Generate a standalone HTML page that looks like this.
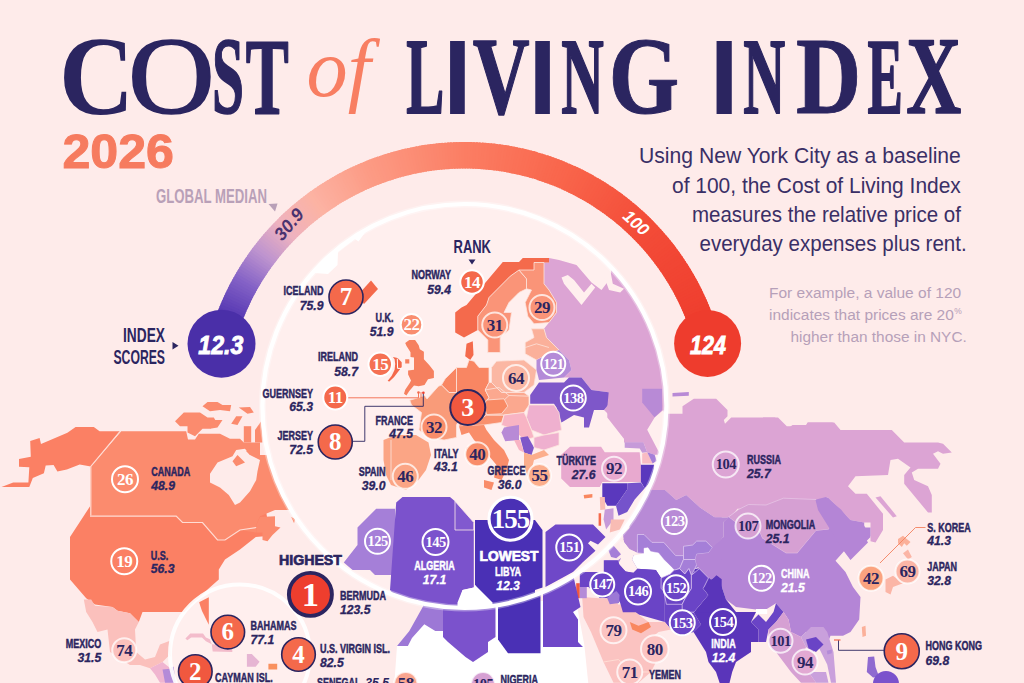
<!DOCTYPE html>
<html lang="en"><head><meta charset="utf-8"><title>Cost of Living Index 2026</title>
<style>
html,body{margin:0;padding:0;background:#feebea;}
body{width:1024px;height:683px;overflow:hidden;font-family:"Liberation Sans",sans-serif;}
svg{display:block;}
text{font-family:"Liberation Sans",sans-serif;}
.serif{font-family:"Liberation Serif",serif;}
</style></head><body>
<svg width="1024" height="683" viewBox="0 0 1024 683">
<rect width="1024" height="683" fill="#feebea"/>
<defs><clipPath id="lensclip"><circle cx="464.4" cy="406" r="202"/></clipPath><clipPath id="carclip"><circle cx="240" cy="654.5" r="70"/></clipPath></defs>
<polygon points="1.5,486.9 13.2,482.5 28.4,482.5 29.3,467.3 19.0,466.7 19.0,459.1 30.8,456.8 30.2,440.9 39.6,438.0 41.0,443.9 67.4,432.7 75.6,426.9 93.8,426.9 99.6,431.3 120.1,431.3 90.8,466.4 79.7,464.4 66.8,469.6 57.4,471.4 53.6,465.0 45.7,465.5 43.9,473.2 32.8,478.1 29.3,486.9" fill="#fb8064"/>
<polygon points="91.2,504.5 265.0,504.5 270.0,535.8 255.8,537.0 240.0,549.5 225.0,559.5 218.8,569.5 218.8,579.5 207.5,589.5 197.5,599.5 185.0,612.0 142.5,612.0 138.8,622.0 130.0,613.2 117.5,610.8 112.5,607.0 95.0,604.5 86.2,598.2 70.0,579.5 70.0,537.0" fill="#fb8064"/>
<polygon points="121.2,431.2 186.2,431.2 188.0,439.5 195.0,439.5 198.8,433.8 220.0,433.8 230.0,438.8 240.0,438.8 243.8,442.5 260.0,442.5 260.0,455.0 275.0,455.0 275.0,470.0 290.0,485.0 297.5,510.0 275.0,510.0 260.0,516.2 256.2,525.0 256.2,532.5 240.0,530.0 225.0,540.0 217.5,540.0 202.5,522.5 182.5,522.5 176.2,516.2 90.0,516.2 90.0,467.5" fill="#fb8b6e"/>
<polygon points="210.0,473.8 217.5,462.5 232.5,456.2 236.2,450.0 245.0,448.8 250.0,455.0 260.0,460.0 257.5,471.2 256.2,480.0 250.0,491.2 240.0,502.5 235.0,505.0 228.8,495.0 220.0,487.5 210.0,482.5" fill="#feebea"/>
<polygon points="232.5,461.2 237.5,455.0 245.0,462.5 236.2,466.2" fill="#fb8b6e"/>
<polygon points="246.2,451.2 251.2,447.5 256.2,455.0 250.0,455.0" fill="#fb8b6e"/>
<polygon points="175.0,421.2 183.8,412.5 200.0,412.5 207.5,417.5 213.8,417.5 217.5,423.8 210.0,428.8 202.5,428.8 195.0,436.2 187.5,432.5 187.5,426.2 180.0,426.2" fill="#fb8b6e"/>
<polygon points="202.5,406.2 207.5,402.0 217.5,402.0 222.5,405.0 231.2,405.0 230.0,411.2 220.0,410.0 210.0,411.2" fill="#fb8b6e"/>
<polygon points="231.2,423.8 236.2,416.2 242.5,416.2 237.5,425.0" fill="#fb8b6e"/>
<polygon points="238.8,407.5 250.0,407.0 253.8,412.5 247.5,413.8" fill="#fb8b6e"/>
<polygon points="243.8,426.2 251.2,426.2 251.2,442.5 243.8,442.5" fill="#fb8b6e"/>
<polygon points="255.0,430.0 261.2,421.2 262.5,442.5 255.0,442.5" fill="#fb8b6e"/>
<polygon points="210.0,420.0 222.5,420.0 217.5,427.5 210.0,428.8" fill="#fb8b6e"/>
<polygon points="260.0,517.0 275.0,516.2 275.0,526.2 280.5,527.5 272.5,535.0 267.5,541.2 262.5,540.0 262.5,532.5 256.2,532.5 256.2,525.0" fill="#fb8b6e"/>
<polygon points="291.2,517.0 295.5,518.8 294.0,523.0" fill="#fb8b6e"/>
<polyline points="90.0,516.2 176.2,516.2 182.5,522.5 202.5,522.5 217.5,540.0 225.0,540.0 240.0,530.0 256.2,527.5" fill="none" stroke="#ffdcd4" stroke-width="1.2"/>
<polyline points="120.1,431.3 90.8,466.4 90.8,515.4" fill="none" stroke="#ffdcd4" stroke-width="1.2"/>
<polygon points="83.8,599.5 91.2,599.5 95.0,605.8 112.5,607.0 117.5,610.8 130.0,613.2 138.8,622.0 135.0,629.5 136.2,652.0 145.0,659.5 155.0,657.0 160.0,644.5 170.0,640.8 172.5,652.0 162.5,662.0 150.0,668.2 140.0,665.0 130.0,665.0 110.0,652.0 107.5,629.5 97.5,632.0 92.5,622.0 86.2,612.0" fill="#fbc0bc"/>
<polygon points="150.0,668.2 162.5,662.0 175.0,672.0 172.5,682.8 160.0,682.8 155.0,674.5" fill="#f0b5d0"/>
<polygon points="162.5,669.5 175.0,668.2 177.5,682.8 165.0,682.8" fill="#b48bd8"/>
<polygon points="655.0,413.8 682.5,413.8 682.5,406.2 693.8,398.8 716.2,398.8 727.5,410.0 727.5,416.2 723.8,420.0 725.0,423.8 731.2,417.5 775.0,417.5 787.5,428.8 792.5,425.0 806.2,425.0 807.5,422.5 832.5,422.5 840.0,430.0 840.0,482.5 815.0,500.0 820.0,506.2 815.0,513.8 772.5,513.8 765.0,506.2 756.2,505.0 750.0,508.8 737.5,508.8 730.0,517.5 715.0,517.5 700.0,507.5 686.2,495.0 676.2,500.0 665.0,490.0 652.5,490.0 640.0,490.0 640.0,413.8" fill="#dca4d4"/>
<polygon points="763.0,417.5 778.0,417.5 786.8,426.2 805.5,426.2 808.0,422.5 834.2,422.5 840.5,430.0 891.8,430.0 904.2,442.5 938.0,442.5 943.0,443.8 951.8,452.5 943.0,453.8 938.0,451.2 933.0,453.8 940.5,463.8 938.0,468.8 918.0,468.8 911.8,472.5 914.2,480.0 928.0,486.2 931.8,495.0 931.8,512.5 928.0,512.5 904.2,483.8 904.2,475.0 910.5,467.5 898.0,458.8 890.5,460.0 888.0,475.0 855.5,476.2 848.0,486.2 855.5,493.8 866.8,493.8 883.0,513.8 883.0,530.0 875.5,542.5 870.5,541.2 870.5,522.5 864.2,522.5 850.5,520.0 843.0,512.5 828.0,497.5 815.5,500.0 793.0,510.0 763.0,510.0" fill="#dca4d4"/>
<polygon points="875.5,497.5 880.5,496.2 896.8,516.2 893.0,517.5" fill="#dca4d4"/>
<polygon points="672.5,393.0 688.8,392.0 688.8,395.8 672.5,396.5" fill="#b88ad6"/>
<polygon points="629.8,502.0 641.0,487.0 652.5,490.0 665.0,490.0 676.2,500.0 686.2,495.0 700.0,507.5 715.0,517.5 728.5,517.5 723.5,522.0 723.5,537.0 711.0,547.0 706.0,540.8 696.0,540.8 691.0,545.8 683.5,545.8 683.5,557.0 677.2,557.0 671.0,547.0 661.0,544.5 653.5,547.0 651.0,539.5 643.5,534.5 638.5,535.8 638.5,552.0 629.8,552.0 623.5,539.5 629.8,532.0" fill="#b88ad6"/>
<polygon points="728.5,517.0 738.5,509.5 748.5,504.5 766.0,505.0 783.5,498.2 816.0,499.5 828.5,512.0 831.8,524.5 828.5,529.5 816.0,530.8 797.2,553.2 786.0,553.2 762.2,538.2 758.5,529.5 738.5,524.5" fill="#d6a0d3" stroke="#e6c4e4" stroke-width="0.8" stroke-linejoin="round"/>
<polygon points="723.5,522.0 728.5,517.0 738.5,524.5 758.5,529.5 762.2,538.2 786.0,553.2 797.2,553.2 816.0,530.8 828.5,529.5 831.8,524.5 828.5,512.0 816.0,499.5 826.0,497.0 841.0,509.5 851.0,522.0 863.5,524.5 870.5,537.0 860.5,547.0 850.5,559.5 845.5,549.5 835.5,560.8 845.5,572.0 853.0,587.0 860.5,597.0 859.2,619.5 850.5,632.0 843.0,635.8 830.5,635.8 828.0,642.0 821.8,642.0 818.0,637.0 811.0,637.0 806.0,632.0 801.0,637.0 791.0,632.0 788.5,619.5 783.5,612.0 776.0,603.2 766.0,609.5 756.0,609.5 736.0,607.0 726.0,599.5 721.0,584.5 718.5,575.8 711.0,579.5 698.5,567.0 696.0,554.5 711.0,547.0 723.5,537.0" fill="#b485d6"/>
<polygon points="815.5,500.0 828.0,497.5 843.0,512.5 850.5,520.0 864.2,522.5 864.2,527.5 870.5,527.5 870.5,536.2 864.2,536.2 868.0,542.5 850.5,560.0 843.0,550.0 830.5,530.0 818.0,510.0" fill="#b485d6"/>
<polygon points="638.5,535.8 643.5,534.5 651.0,539.5 653.5,547.0 661.0,544.5 671.0,547.0 677.2,557.0 683.5,557.0 683.5,545.8 691.0,545.8 696.0,540.8 706.0,540.8 711.0,547.0 696.0,554.5 698.5,567.0 693.5,569.5 691.0,569.5 686.0,574.5 676.0,569.5 664.8,579.5 662.2,579.5 656.0,568.2 638.5,568.2 633.5,573.2 622.2,569.5 617.2,560.8 629.8,552.0 638.5,552.0" fill="#a57fd8"/>
<polygon points="632.2,549.5 648.5,549.5 658.5,559.5 673.5,564.5 671.0,572.0 651.0,565.8 636.0,562.0" fill="#feebea"/>
<polygon points="604.8,560.8 617.2,560.8 622.2,569.5 633.5,573.2 638.5,568.2 656.0,568.2 662.2,579.5 664.8,579.5 664.8,622.0 638.5,614.5 626.0,604.5 618.5,594.5 604.8,574.5" fill="#6a44c6"/>
<polygon points="579.8,572.0 604.8,572.0 618.5,594.5 611.0,598.2 599.8,598.2 591.0,587.0 582.2,587.0" fill="#6a44c6"/>
<polygon points="608.5,594.5 617.2,592.0 622.2,599.5 616.0,604.5 609.8,602.0" fill="#9c78d6"/>
<polygon points="664.8,579.5 676.0,569.5 686.0,574.5 691.0,569.5 693.5,569.5 703.5,587.0 706.0,589.5 693.5,612.0 701.0,624.5 693.5,632.0 686.0,634.5 671.0,629.5 664.8,622.0" fill="#6a44c6"/>
<polygon points="693.5,569.5 698.5,568.2 711.0,579.5 718.5,575.8 721.0,584.5 726.0,599.5 736.0,612.0 756.0,612.0 751.0,622.0 758.5,629.5 758.5,642.0 751.0,642.0 751.0,652.0 736.0,662.0 732.2,672.0 728.5,687.0 721.0,687.0 716.0,672.0 708.5,662.0 706.0,652.0 693.5,632.0 701.0,624.5 693.5,612.0 706.0,589.5 703.5,587.0" fill="#5a35ba"/>
<polygon points="756.0,609.0 767.2,609.0 767.2,614.0 756.0,614.0" fill="#ffffff"/>
<polygon points="751.0,622.0 758.5,614.5 766.0,622.0 773.5,612.0 776.0,603.2 783.5,612.0 776.0,622.0 768.5,629.5 766.0,642.0 758.5,642.0 758.5,629.5" fill="#6a44c6"/>
<polygon points="776.0,622.0 783.5,612.0 788.5,619.5 791.0,632.0 801.0,637.0 806.0,647.0 801.0,662.0 808.5,672.0 816.0,682.8 801.0,682.8 791.0,672.0 783.5,662.0 776.0,652.0 768.5,642.0 768.5,629.5" fill="#d6a0d3"/>
<polygon points="801.0,637.0 806.0,632.0 811.0,627.0 823.5,627.0 827.2,632.0 833.5,652.0 836.0,682.8 831.0,682.8 827.2,664.5 818.5,647.0 813.5,652.0 806.0,647.0" fill="#c9a0dc"/>
<polygon points="806.0,639.5 816.0,637.0 823.5,644.5 816.0,652.0 808.5,648.2" fill="#6a44c6"/>
<polygon points="808.5,672.0 826.0,672.0 828.5,682.8 816.0,682.8" fill="#c9a0dc"/>
<polygon points="582.2,597.0 599.8,598.2 611.0,598.2 618.5,604.5 626.0,604.5 638.5,614.5 648.5,622.0 664.8,622.0 671.0,629.5 658.5,632.0 646.0,642.0 651.0,652.0 658.5,657.0 651.0,672.0 638.5,682.8 613.5,682.8 603.5,662.0 591.0,632.0 583.5,617.0" fill="#fbc3c1"/>
<polygon points="629.8,622.0 638.5,625.8 648.5,622.0 651.0,627.0 641.0,633.2 632.2,629.5" fill="#f9875f"/>
<polyline points="603.5,662.0 618.5,659.5 629.8,672.0 651.0,672.0" fill="none" stroke="#ffdcd4" stroke-width="1"/>
<polygon points="576.2,583.2 579.8,583.2 579.8,598.2 576.2,598.2" fill="#f0583f"/>
<polygon points="579.8,587.0 586.8,587.0 586.8,598.2 579.8,598.2" fill="#b48bd8"/>
<polygon points="579.8,573.2 595.5,573.2 595.5,587.0 579.8,587.0" fill="#6a44c6"/>
<polygon points="885.5,579.5 893.0,575.8 903.0,583.2 893.0,587.0 890.5,594.5 885.5,592.0" fill="#fbb5a6"/>
<polygon points="903.0,553.2 908.0,549.5 911.8,557.0 908.0,559.5" fill="#fbb5a6"/>
<polygon points="898.0,539.0 903.0,535.8 906.8,539.0 910.5,542.0 906.8,545.8 904.2,543.2 901.8,547.0 898.0,543.2" fill="#fbb09a"/>
<polygon points="861.8,627.0 865.5,625.8 866.0,635.8 862.5,637.0" fill="#fbb09a"/>
<polygon points="868.0,657.0 874.2,656.5 875.5,667.0 879.2,677.0 873.0,677.5 866.8,672.0" fill="#8f6ad0"/>
<circle cx="886" cy="684" r="13" fill="#7b52cc"/>
<polygon points="826.8,650.8 831.8,649.5 831.8,653.2 827.5,654.5" fill="#b48bd8"/>
<polygon points="622.9,534.5 629.5,527.9 629.5,517.4 721.7,517.4 721.7,539.8 712.5,547.7 705.9,541.1 696.7,541.1 692.7,545.0 683.5,546.3 683.5,555.6 675.6,555.6 663.8,542.4 651.9,542.4 644.0,534.5 637.4,534.5 637.4,552.9 629.5,549.0 624.2,542.4" fill="#b88ad6"/>
<polygon points="637.4,534.5 644.0,534.5 651.9,542.4 663.8,542.4 675.6,555.6 683.5,555.6 683.5,559.5 679.6,568.7 674.3,570.1 663.8,559.5 658.5,552.9 650.6,551.6 648.0,547.7 644.0,548.3 644.0,553.6 637.4,552.9" fill="#a57fd8" stroke="#e3cdf0" stroke-width="0.7" stroke-linejoin="round"/>
<polygon points="633.5,555.6 644.0,553.6 644.0,548.3 648.0,547.7 650.6,551.6 658.5,552.9 663.8,559.5 674.3,570.1 670.3,574.0 661.1,578.0 655.9,570.1 637.4,568.7 632.1,559.5" fill="#ffffff"/>
<polygon points="619.6,541.1 624.2,542.4 629.5,549.0 637.4,552.9 633.5,555.6 632.1,559.5 637.4,568.7 633.5,572.7 625.6,571.4 618.3,563.5 621.0,558.2" fill="#ffefee"/>
<polygon points="683.5,546.3 692.7,545.0 696.7,541.1 705.9,541.1 712.5,547.7 708.5,552.9 696.7,554.2 695.4,559.5 683.5,559.5" fill="#a57fd8" stroke="#e3cdf0" stroke-width="0.7" stroke-linejoin="round"/>
<polygon points="683.5,559.5 695.4,559.5 696.7,564.8 691.4,575.3 688.8,568.7 684.8,574.0 679.6,568.7" fill="#a57fd8" stroke="#e3cdf0" stroke-width="0.7" stroke-linejoin="round"/>
<polygon points="696.7,564.8 695.4,559.5 696.7,554.2 708.5,552.9 712.5,547.7 721.7,539.8 721.7,579.3 716.4,575.3 708.5,578.0 699.3,568.7" fill="#b485d6"/>
<polygon points="603.8,560.2 617.7,560.2 619.6,564.8 625.6,571.4 633.5,572.7 637.4,568.7 655.9,570.1 661.1,578.0 661.1,588.5 663.8,591.1 663.8,612.2 622.9,612.2 619.0,599.0 619.0,593.8 615.0,591.1 603.8,572.7" fill="#6a44c6"/>
<polygon points="661.1,578.0 670.3,574.0 674.3,570.1 679.6,568.7 684.8,574.0 688.8,568.7 691.4,575.3 691.4,588.5 684.8,599.0 682.2,604.3 666.4,604.3 663.8,591.1 661.1,588.5" fill="#6a44c6" stroke="#e3cdf0" stroke-width="0.7" stroke-linejoin="round"/>
<polygon points="691.4,575.3 699.3,568.7 708.5,578.0 703.3,588.5 708.5,595.1 694.1,612.2 682.2,612.2 682.2,604.3 684.8,599.0 691.4,588.5" fill="#6a44c6" stroke="#e3cdf0" stroke-width="0.7" stroke-linejoin="round"/>
<polygon points="703.3,588.5 716.4,575.3 721.7,579.3 721.7,612.2 694.1,612.2 708.5,595.1" fill="#5a35ba"/>
<polygon points="584.7,572.7 603.8,572.7 615.0,591.1 611.7,592.2 605.8,593.8 597.9,588.5 590.0,588.5 584.7,583.2" fill="#6a44c6"/>
<polygon points="607.1,597.7 616.3,591.1 619.6,595.1 619.0,603.0 609.8,604.3" fill="#9c78d6"/>
<polygon points="608.4,550.3 613.7,545.7 621.0,554.2 616.3,558.2 611.1,556.9" fill="#a57fd8"/>
<polygon points="397.0,646.1 409.3,631.0 424.3,622.8 444.8,631.0 444.8,600.9 576.1,600.9 584.3,644.7 588.4,684.3 394.3,684.3" fill="#ffffff"/>
<polygon points="397.0,646.1 409.3,631.0 423.0,606.4 423.0,568.1 444.8,568.1 444.8,631.0 435.3,631.0 424.3,624.2 412.0,637.9 407.9,646.1" fill="#9d78d6"/>
<polygon points="448.0,597.0 495.5,597.0 495.5,637.0 488.0,642.0 488.0,652.0 473.0,662.0 465.5,657.0 448.0,642.0 443.0,637.0 443.0,597.0" fill="#7b52cc"/>
<polygon points="498.0,587.0 540.5,587.0 540.5,653.2 508.0,653.2 498.0,639.5" fill="#4a30b5"/>
<polygon points="543.0,574.5 573.0,574.5 580.5,607.0 573.0,612.0 578.0,619.5 578.0,642.0 583.0,647.0 543.0,647.0" fill="#6f48c8"/>
<path d="M221.30,343.42 A251.25,251.25 0 0 1 222.44,339.16" fill="none" stroke="#4b30a9" stroke-width="26.5"/>
<path d="M222.00,340.76 A251.25,251.25 0 0 1 223.20,336.51" fill="none" stroke="#4c31aa" stroke-width="26.5"/>
<path d="M222.74,338.10 A251.25,251.25 0 0 1 223.98,333.86" fill="none" stroke="#4e32ab" stroke-width="26.5"/>
<path d="M223.51,335.45 A251.25,251.25 0 0 1 224.79,331.23" fill="none" stroke="#4f33ac" stroke-width="26.5"/>
<path d="M224.30,332.81 A251.25,251.25 0 0 1 225.63,328.60" fill="none" stroke="#5034ad" stroke-width="26.5"/>
<path d="M225.12,330.18 A251.25,251.25 0 0 1 226.50,325.99" fill="none" stroke="#5235ae" stroke-width="26.5"/>
<path d="M225.97,327.56 A251.25,251.25 0 0 1 227.40,323.38" fill="none" stroke="#5336af" stroke-width="26.5"/>
<path d="M226.86,324.94 A251.25,251.25 0 0 1 228.32,320.78" fill="none" stroke="#5437b0" stroke-width="26.5"/>
<path d="M227.76,322.34 A251.25,251.25 0 0 1 229.28,318.20" fill="none" stroke="#5638b1" stroke-width="26.5"/>
<path d="M228.70,319.75 A251.25,251.25 0 0 1 230.26,315.62" fill="none" stroke="#5739b2" stroke-width="26.5"/>
<path d="M229.67,317.16 A251.25,251.25 0 0 1 231.27,313.05" fill="none" stroke="#583ab3" stroke-width="26.5"/>
<path d="M230.66,314.59 A251.25,251.25 0 0 1 232.31,310.50" fill="none" stroke="#5a3bb4" stroke-width="26.5"/>
<path d="M231.69,312.03 A251.25,251.25 0 0 1 233.38,307.96" fill="none" stroke="#5d3eb5" stroke-width="26.5"/>
<path d="M232.74,309.48 A251.25,251.25 0 0 1 234.48,305.43" fill="none" stroke="#6041b7" stroke-width="26.5"/>
<path d="M233.82,306.94 A251.25,251.25 0 0 1 235.60,302.91" fill="none" stroke="#6444b8" stroke-width="26.5"/>
<path d="M234.92,304.42 A251.25,251.25 0 0 1 236.75,300.40" fill="none" stroke="#6747ba" stroke-width="26.5"/>
<path d="M236.06,301.90 A251.25,251.25 0 0 1 237.93,297.91" fill="none" stroke="#6b4bbb" stroke-width="26.5"/>
<path d="M237.22,299.40 A251.25,251.25 0 0 1 239.13,295.43" fill="none" stroke="#6e4ebd" stroke-width="26.5"/>
<path d="M238.41,296.92 A251.25,251.25 0 0 1 240.37,292.96" fill="none" stroke="#7251be" stroke-width="26.5"/>
<path d="M239.62,294.44 A251.25,251.25 0 0 1 241.63,290.51" fill="none" stroke="#7554c0" stroke-width="26.5"/>
<path d="M240.87,291.98 A251.25,251.25 0 0 1 242.91,288.07" fill="none" stroke="#7958c1" stroke-width="26.5"/>
<path d="M242.14,289.53 A251.25,251.25 0 0 1 244.23,285.65" fill="none" stroke="#7c5bc3" stroke-width="26.5"/>
<path d="M243.43,287.10 A251.25,251.25 0 0 1 245.57,283.24" fill="none" stroke="#805ec4" stroke-width="26.5"/>
<path d="M244.76,284.68 A251.25,251.25 0 0 1 246.93,280.84" fill="none" stroke="#8361c6" stroke-width="26.5"/>
<path d="M246.11,282.28 A251.25,251.25 0 0 1 248.32,278.46" fill="none" stroke="#8865c7" stroke-width="26.5"/>
<path d="M247.49,279.89 A251.25,251.25 0 0 1 249.74,276.09" fill="none" stroke="#8d6ac7" stroke-width="26.5"/>
<path d="M248.89,277.51 A251.25,251.25 0 0 1 251.19,273.75" fill="none" stroke="#926ec8" stroke-width="26.5"/>
<path d="M250.32,275.15 A251.25,251.25 0 0 1 252.66,271.41" fill="none" stroke="#9672c9" stroke-width="26.5"/>
<path d="M251.77,272.81 A251.25,251.25 0 0 1 254.15,269.10" fill="none" stroke="#9b76ca" stroke-width="26.5"/>
<path d="M253.25,270.48 A251.25,251.25 0 0 1 255.67,266.80" fill="none" stroke="#a07aca" stroke-width="26.5"/>
<path d="M254.76,268.17 A251.25,251.25 0 0 1 257.22,264.51" fill="none" stroke="#a57ecb" stroke-width="26.5"/>
<path d="M256.29,265.88 A251.25,251.25 0 0 1 258.79,262.25" fill="none" stroke="#aa82cc" stroke-width="26.5"/>
<path d="M257.84,263.60 A251.25,251.25 0 0 1 260.38,260.00" fill="none" stroke="#af87cd" stroke-width="26.5"/>
<path d="M259.42,261.34 A251.25,251.25 0 0 1 262.00,257.77" fill="none" stroke="#b38bcd" stroke-width="26.5"/>
<path d="M261.03,259.10 A251.25,251.25 0 0 1 263.65,255.55" fill="none" stroke="#b88fce" stroke-width="26.5"/>
<path d="M262.66,256.88 A251.25,251.25 0 0 1 265.32,253.36" fill="none" stroke="#bd93cf" stroke-width="26.5"/>
<path d="M264.31,254.67 A251.25,251.25 0 0 1 267.01,251.18" fill="none" stroke="#c196ce" stroke-width="26.5"/>
<path d="M265.99,252.48 A251.25,251.25 0 0 1 268.73,249.02" fill="none" stroke="#c598cd" stroke-width="26.5"/>
<path d="M267.69,250.31 A251.25,251.25 0 0 1 270.47,246.88" fill="none" stroke="#c99bcb" stroke-width="26.5"/>
<path d="M269.42,248.16 A251.25,251.25 0 0 1 272.23,244.76" fill="none" stroke="#cd9eca" stroke-width="26.5"/>
<path d="M271.17,246.03 A251.25,251.25 0 0 1 274.02,242.66" fill="none" stroke="#d1a0c9" stroke-width="26.5"/>
<path d="M272.94,243.92 A251.25,251.25 0 0 1 275.83,240.58" fill="none" stroke="#d5a2c7" stroke-width="26.5"/>
<path d="M274.74,241.83 A251.25,251.25 0 0 1 277.66,238.52" fill="none" stroke="#d9a5c6" stroke-width="26.5"/>
<path d="M276.56,239.75 A251.25,251.25 0 0 1 279.51,236.48" fill="none" stroke="#dda8c5" stroke-width="26.5"/>
<path d="M278.40,237.70 A251.25,251.25 0 0 1 281.39,234.46" fill="none" stroke="#e1aac3" stroke-width="26.5"/>
<path d="M280.26,235.67 A251.25,251.25 0 0 1 283.29,232.46" fill="none" stroke="#e5acc2" stroke-width="26.5"/>
<path d="M282.15,233.66 A251.25,251.25 0 0 1 285.21,230.48" fill="none" stroke="#e9afc1" stroke-width="26.5"/>
<path d="M284.06,231.67 A251.25,251.25 0 0 1 287.15,228.53" fill="none" stroke="#edb2bf" stroke-width="26.5"/>
<path d="M285.99,229.70 A251.25,251.25 0 0 1 289.12,226.59" fill="none" stroke="#efb2be" stroke-width="26.5"/>
<path d="M287.94,227.75 A251.25,251.25 0 0 1 291.10,224.68" fill="none" stroke="#f0b2bc" stroke-width="26.5"/>
<path d="M289.91,225.82 A251.25,251.25 0 0 1 293.11,222.78" fill="none" stroke="#f1b2ba" stroke-width="26.5"/>
<path d="M291.90,223.92 A251.25,251.25 0 0 1 295.14,220.91" fill="none" stroke="#f2b2b8" stroke-width="26.5"/>
<path d="M293.92,222.03 A251.25,251.25 0 0 1 297.18,219.07" fill="none" stroke="#f3b2b6" stroke-width="26.5"/>
<path d="M295.95,220.17 A251.25,251.25 0 0 1 299.25,217.24" fill="none" stroke="#f4b2b4" stroke-width="26.5"/>
<path d="M298.01,218.33 A251.25,251.25 0 0 1 301.34,215.44" fill="none" stroke="#f5b2b2" stroke-width="26.5"/>
<path d="M300.08,216.52 A251.25,251.25 0 0 1 303.44,213.66" fill="none" stroke="#f6b3b0" stroke-width="26.5"/>
<path d="M302.18,214.72 A251.25,251.25 0 0 1 305.57,211.90" fill="none" stroke="#f7b3ae" stroke-width="26.5"/>
<path d="M304.29,212.95 A251.25,251.25 0 0 1 307.71,210.17" fill="none" stroke="#f8b3ad" stroke-width="26.5"/>
<path d="M306.43,211.21 A251.25,251.25 0 0 1 309.88,208.46" fill="none" stroke="#f8b3ab" stroke-width="26.5"/>
<path d="M308.58,209.48 A251.25,251.25 0 0 1 312.06,206.78" fill="none" stroke="#f9b3a9" stroke-width="26.5"/>
<path d="M310.75,207.79 A251.25,251.25 0 0 1 314.26,205.12" fill="none" stroke="#fab3a7" stroke-width="26.5"/>
<path d="M312.94,206.11 A251.25,251.25 0 0 1 316.48,203.48" fill="none" stroke="#fbb3a5" stroke-width="26.5"/>
<path d="M315.15,204.46 A251.25,251.25 0 0 1 318.72,201.87" fill="none" stroke="#fcb3a3" stroke-width="26.5"/>
<path d="M317.37,202.83 A251.25,251.25 0 0 1 320.97,200.28" fill="none" stroke="#fcb2a2" stroke-width="26.5"/>
<path d="M319.62,201.23 A251.25,251.25 0 0 1 323.25,198.72" fill="none" stroke="#fcb0a1" stroke-width="26.5"/>
<path d="M321.88,199.65 A251.25,251.25 0 0 1 325.53,197.18" fill="none" stroke="#fcaf9f" stroke-width="26.5"/>
<path d="M324.16,198.10 A251.25,251.25 0 0 1 327.84,195.67" fill="none" stroke="#fcae9e" stroke-width="26.5"/>
<path d="M326.45,196.57 A251.25,251.25 0 0 1 330.16,194.18" fill="none" stroke="#fcad9c" stroke-width="26.5"/>
<path d="M328.77,195.07 A251.25,251.25 0 0 1 332.50,192.72" fill="none" stroke="#fcac9b" stroke-width="26.5"/>
<path d="M331.10,193.59 A251.25,251.25 0 0 1 334.85,191.28" fill="none" stroke="#fcab9a" stroke-width="26.5"/>
<path d="M333.44,192.14 A251.25,251.25 0 0 1 337.22,189.87" fill="none" stroke="#fcaa98" stroke-width="26.5"/>
<path d="M335.80,190.72 A251.25,251.25 0 0 1 339.61,188.49" fill="none" stroke="#fca997" stroke-width="26.5"/>
<path d="M338.18,189.32 A251.25,251.25 0 0 1 342.01,187.13" fill="none" stroke="#fca896" stroke-width="26.5"/>
<path d="M340.57,187.94 A251.25,251.25 0 0 1 344.42,185.80" fill="none" stroke="#fca794" stroke-width="26.5"/>
<path d="M342.97,186.60 A251.25,251.25 0 0 1 346.85,184.50" fill="none" stroke="#fca693" stroke-width="26.5"/>
<path d="M345.39,185.27 A251.25,251.25 0 0 1 349.30,183.22" fill="none" stroke="#fca591" stroke-width="26.5"/>
<path d="M347.83,183.98 A251.25,251.25 0 0 1 351.76,181.97" fill="none" stroke="#fca490" stroke-width="26.5"/>
<path d="M350.28,182.71 A251.25,251.25 0 0 1 354.23,180.74" fill="none" stroke="#fca38f" stroke-width="26.5"/>
<path d="M352.74,181.47 A251.25,251.25 0 0 1 356.71,179.55" fill="none" stroke="#fca28d" stroke-width="26.5"/>
<path d="M355.22,180.26 A251.25,251.25 0 0 1 359.21,178.38" fill="none" stroke="#fca08c" stroke-width="26.5"/>
<path d="M357.71,179.08 A251.25,251.25 0 0 1 361.72,177.24" fill="none" stroke="#fc9f8a" stroke-width="26.5"/>
<path d="M360.21,177.92 A251.25,251.25 0 0 1 364.24,176.12" fill="none" stroke="#fc9e89" stroke-width="26.5"/>
<path d="M362.73,176.79 A251.25,251.25 0 0 1 366.77,175.03" fill="none" stroke="#fc9d88" stroke-width="26.5"/>
<path d="M365.25,175.68 A251.25,251.25 0 0 1 369.32,173.98" fill="none" stroke="#fc9c86" stroke-width="26.5"/>
<path d="M367.79,174.61 A251.25,251.25 0 0 1 371.88,172.95" fill="none" stroke="#fc9b85" stroke-width="26.5"/>
<path d="M370.34,173.56 A251.25,251.25 0 0 1 374.45,171.94" fill="none" stroke="#fc9a84" stroke-width="26.5"/>
<path d="M372.91,172.54 A251.25,251.25 0 0 1 377.03,170.97" fill="none" stroke="#fc9a83" stroke-width="26.5"/>
<path d="M375.48,171.55 A251.25,251.25 0 0 1 379.62,170.02" fill="none" stroke="#fc9982" stroke-width="26.5"/>
<path d="M378.06,170.59 A251.25,251.25 0 0 1 382.22,169.11" fill="none" stroke="#fc9881" stroke-width="26.5"/>
<path d="M380.66,169.65 A251.25,251.25 0 0 1 384.83,168.22" fill="none" stroke="#fc9781" stroke-width="26.5"/>
<path d="M383.26,168.75 A251.25,251.25 0 0 1 387.45,167.36" fill="none" stroke="#fc9680" stroke-width="26.5"/>
<path d="M385.88,167.87 A251.25,251.25 0 0 1 390.08,166.53" fill="none" stroke="#fc967f" stroke-width="26.5"/>
<path d="M388.50,167.02 A251.25,251.25 0 0 1 392.72,165.72" fill="none" stroke="#fc957e" stroke-width="26.5"/>
<path d="M391.13,166.20 A251.25,251.25 0 0 1 395.36,164.95" fill="none" stroke="#fc947d" stroke-width="26.5"/>
<path d="M393.77,165.41 A251.25,251.25 0 0 1 398.02,164.21" fill="none" stroke="#fc937c" stroke-width="26.5"/>
<path d="M396.42,164.65 A251.25,251.25 0 0 1 400.68,163.49" fill="none" stroke="#fc927b" stroke-width="26.5"/>
<path d="M399.08,163.92 A251.25,251.25 0 0 1 403.35,162.80" fill="none" stroke="#fc917a" stroke-width="26.5"/>
<path d="M401.75,163.21 A251.25,251.25 0 0 1 406.03,162.15" fill="none" stroke="#fc9079" stroke-width="26.5"/>
<path d="M404.42,162.54 A251.25,251.25 0 0 1 408.72,161.52" fill="none" stroke="#fc9078" stroke-width="26.5"/>
<path d="M407.10,161.89 A251.25,251.25 0 0 1 411.41,160.92" fill="none" stroke="#fc8f77" stroke-width="26.5"/>
<path d="M409.79,161.28 A251.25,251.25 0 0 1 414.11,160.36" fill="none" stroke="#fc8e76" stroke-width="26.5"/>
<path d="M412.49,160.69 A251.25,251.25 0 0 1 416.81,159.82" fill="none" stroke="#fc8d75" stroke-width="26.5"/>
<path d="M415.19,160.14 A251.25,251.25 0 0 1 419.52,159.31" fill="none" stroke="#fb8c74" stroke-width="26.5"/>
<path d="M417.89,159.61 A251.25,251.25 0 0 1 422.24,158.83" fill="none" stroke="#fb8c73" stroke-width="26.5"/>
<path d="M420.61,159.11 A251.25,251.25 0 0 1 424.96,158.38" fill="none" stroke="#fb8b72" stroke-width="26.5"/>
<path d="M423.32,158.65 A251.25,251.25 0 0 1 427.68,157.96" fill="none" stroke="#fb8a71" stroke-width="26.5"/>
<path d="M426.05,158.21 A251.25,251.25 0 0 1 430.41,157.57" fill="none" stroke="#fb8970" stroke-width="26.5"/>
<path d="M428.77,157.80 A251.25,251.25 0 0 1 433.15,157.21" fill="none" stroke="#fb8870" stroke-width="26.5"/>
<path d="M431.51,157.43 A251.25,251.25 0 0 1 435.88,156.88" fill="none" stroke="#fb876f" stroke-width="26.5"/>
<path d="M434.24,157.08 A251.25,251.25 0 0 1 438.63,156.59" fill="none" stroke="#fb866e" stroke-width="26.5"/>
<path d="M436.98,156.76 A251.25,251.25 0 0 1 441.37,156.32" fill="none" stroke="#fb866d" stroke-width="26.5"/>
<path d="M439.72,156.47 A251.25,251.25 0 0 1 444.12,156.08" fill="none" stroke="#fb856c" stroke-width="26.5"/>
<path d="M442.47,156.22 A251.25,251.25 0 0 1 446.87,155.87" fill="none" stroke="#fb846b" stroke-width="26.5"/>
<path d="M445.22,155.99 A251.25,251.25 0 0 1 449.62,155.69" fill="none" stroke="#fb836a" stroke-width="26.5"/>
<path d="M447.97,155.79 A251.25,251.25 0 0 1 452.37,155.54" fill="none" stroke="#fb8269" stroke-width="26.5"/>
<path d="M450.72,155.63 A251.25,251.25 0 0 1 455.13,155.42" fill="none" stroke="#fb8268" stroke-width="26.5"/>
<path d="M453.47,155.49 A251.25,251.25 0 0 1 457.88,155.34" fill="none" stroke="#fb8167" stroke-width="26.5"/>
<path d="M456.23,155.39 A251.25,251.25 0 0 1 460.64,155.28" fill="none" stroke="#fb8066" stroke-width="26.5"/>
<path d="M458.99,155.31 A251.25,251.25 0 0 1 463.40,155.25" fill="none" stroke="#fb7f65" stroke-width="26.5"/>
<path d="M461.74,155.27 A251.25,251.25 0 0 1 466.15,155.26" fill="none" stroke="#fb7e64" stroke-width="26.5"/>
<path d="M464.50,155.25 A251.25,251.25 0 0 1 468.91,155.29" fill="none" stroke="#fb7d63" stroke-width="26.5"/>
<path d="M467.26,155.27 A251.25,251.25 0 0 1 471.67,155.35" fill="none" stroke="#fb7d63" stroke-width="26.5"/>
<path d="M470.01,155.31 A251.25,251.25 0 0 1 474.42,155.45" fill="none" stroke="#fb7c62" stroke-width="26.5"/>
<path d="M472.77,155.39 A251.25,251.25 0 0 1 477.18,155.57" fill="none" stroke="#fb7b61" stroke-width="26.5"/>
<path d="M475.53,155.49 A251.25,251.25 0 0 1 479.93,155.72" fill="none" stroke="#fb7b61" stroke-width="26.5"/>
<path d="M478.28,155.63 A251.25,251.25 0 0 1 482.68,155.91" fill="none" stroke="#fb7a60" stroke-width="26.5"/>
<path d="M481.03,155.79 A251.25,251.25 0 0 1 485.43,156.12" fill="none" stroke="#fb795f" stroke-width="26.5"/>
<path d="M483.78,155.99 A251.25,251.25 0 0 1 488.18,156.37" fill="none" stroke="#fb795f" stroke-width="26.5"/>
<path d="M486.53,156.22 A251.25,251.25 0 0 1 490.92,156.64" fill="none" stroke="#fb785e" stroke-width="26.5"/>
<path d="M489.28,156.47 A251.25,251.25 0 0 1 493.66,156.95" fill="none" stroke="#fa775d" stroke-width="26.5"/>
<path d="M492.02,156.76 A251.25,251.25 0 0 1 496.40,157.28" fill="none" stroke="#fa775d" stroke-width="26.5"/>
<path d="M494.76,157.08 A251.25,251.25 0 0 1 499.13,157.65" fill="none" stroke="#fa765c" stroke-width="26.5"/>
<path d="M497.49,157.43 A251.25,251.25 0 0 1 501.86,158.04" fill="none" stroke="#fa755b" stroke-width="26.5"/>
<path d="M500.23,157.80 A251.25,251.25 0 0 1 504.59,158.47" fill="none" stroke="#fa755b" stroke-width="26.5"/>
<path d="M502.95,158.21 A251.25,251.25 0 0 1 507.31,158.92" fill="none" stroke="#fa745a" stroke-width="26.5"/>
<path d="M505.68,158.65 A251.25,251.25 0 0 1 510.02,159.41" fill="none" stroke="#fa7359" stroke-width="26.5"/>
<path d="M508.39,159.11 A251.25,251.25 0 0 1 512.73,159.92" fill="none" stroke="#fa7359" stroke-width="26.5"/>
<path d="M511.11,159.61 A251.25,251.25 0 0 1 515.43,160.47" fill="none" stroke="#fa7258" stroke-width="26.5"/>
<path d="M513.81,160.14 A251.25,251.25 0 0 1 518.13,161.04" fill="none" stroke="#fa7157" stroke-width="26.5"/>
<path d="M516.51,160.69 A251.25,251.25 0 0 1 520.82,161.64" fill="none" stroke="#fa7157" stroke-width="26.5"/>
<path d="M519.21,161.28 A251.25,251.25 0 0 1 523.51,162.28" fill="none" stroke="#fa7056" stroke-width="26.5"/>
<path d="M521.90,161.89 A251.25,251.25 0 0 1 526.18,162.94" fill="none" stroke="#fa6f55" stroke-width="26.5"/>
<path d="M524.58,162.54 A251.25,251.25 0 0 1 528.85,163.63" fill="none" stroke="#fa6f55" stroke-width="26.5"/>
<path d="M527.25,163.21 A251.25,251.25 0 0 1 531.51,164.35" fill="none" stroke="#fa6e54" stroke-width="26.5"/>
<path d="M529.92,163.92 A251.25,251.25 0 0 1 534.17,165.10" fill="none" stroke="#fa6d53" stroke-width="26.5"/>
<path d="M532.58,164.65 A251.25,251.25 0 0 1 536.81,165.88" fill="none" stroke="#fa6d53" stroke-width="26.5"/>
<path d="M535.23,165.41 A251.25,251.25 0 0 1 539.45,166.69" fill="none" stroke="#fa6c52" stroke-width="26.5"/>
<path d="M537.87,166.20 A251.25,251.25 0 0 1 542.08,167.53" fill="none" stroke="#f96b51" stroke-width="26.5"/>
<path d="M540.50,167.02 A251.25,251.25 0 0 1 544.69,168.39" fill="none" stroke="#f96b51" stroke-width="26.5"/>
<path d="M543.12,167.87 A251.25,251.25 0 0 1 547.30,169.29" fill="none" stroke="#f96a50" stroke-width="26.5"/>
<path d="M545.74,168.75 A251.25,251.25 0 0 1 549.90,170.21" fill="none" stroke="#f9694f" stroke-width="26.5"/>
<path d="M548.34,169.65 A251.25,251.25 0 0 1 552.49,171.16" fill="none" stroke="#f9694f" stroke-width="26.5"/>
<path d="M550.94,170.59 A251.25,251.25 0 0 1 555.07,172.14" fill="none" stroke="#f9684e" stroke-width="26.5"/>
<path d="M553.52,171.55 A251.25,251.25 0 0 1 557.63,173.15" fill="none" stroke="#f9674d" stroke-width="26.5"/>
<path d="M556.09,172.54 A251.25,251.25 0 0 1 560.19,174.19" fill="none" stroke="#f9674d" stroke-width="26.5"/>
<path d="M558.66,173.56 A251.25,251.25 0 0 1 562.73,175.25" fill="none" stroke="#f9664c" stroke-width="26.5"/>
<path d="M561.21,174.61 A251.25,251.25 0 0 1 565.27,176.34" fill="none" stroke="#f9654c" stroke-width="26.5"/>
<path d="M563.75,175.68 A251.25,251.25 0 0 1 567.78,177.46" fill="none" stroke="#f9654b" stroke-width="26.5"/>
<path d="M566.27,176.79 A251.25,251.25 0 0 1 570.29,178.61" fill="none" stroke="#f9644a" stroke-width="26.5"/>
<path d="M568.79,177.92 A251.25,251.25 0 0 1 572.79,179.78" fill="none" stroke="#f8634a" stroke-width="26.5"/>
<path d="M571.29,179.08 A251.25,251.25 0 0 1 575.27,180.99" fill="none" stroke="#f86349" stroke-width="26.5"/>
<path d="M573.78,180.26 A251.25,251.25 0 0 1 577.74,182.21" fill="none" stroke="#f86249" stroke-width="26.5"/>
<path d="M576.26,181.47 A251.25,251.25 0 0 1 580.19,183.47" fill="none" stroke="#f86148" stroke-width="26.5"/>
<path d="M578.72,182.71 A251.25,251.25 0 0 1 582.63,184.75" fill="none" stroke="#f86048" stroke-width="26.5"/>
<path d="M581.17,183.98 A251.25,251.25 0 0 1 585.06,186.06" fill="none" stroke="#f86047" stroke-width="26.5"/>
<path d="M583.61,185.27 A251.25,251.25 0 0 1 587.47,187.40" fill="none" stroke="#f75f47" stroke-width="26.5"/>
<path d="M586.03,186.60 A251.25,251.25 0 0 1 589.87,188.76" fill="none" stroke="#f75e46" stroke-width="26.5"/>
<path d="M588.43,187.94 A251.25,251.25 0 0 1 592.25,190.15" fill="none" stroke="#f75d45" stroke-width="26.5"/>
<path d="M590.82,189.32 A251.25,251.25 0 0 1 594.62,191.57" fill="none" stroke="#f75d45" stroke-width="26.5"/>
<path d="M593.20,190.72 A251.25,251.25 0 0 1 596.97,193.01" fill="none" stroke="#f75c44" stroke-width="26.5"/>
<path d="M595.56,192.14 A251.25,251.25 0 0 1 599.30,194.47" fill="none" stroke="#f75b44" stroke-width="26.5"/>
<path d="M597.90,193.59 A251.25,251.25 0 0 1 601.62,195.97" fill="none" stroke="#f65b43" stroke-width="26.5"/>
<path d="M600.23,195.07 A251.25,251.25 0 0 1 603.92,197.48" fill="none" stroke="#f65a43" stroke-width="26.5"/>
<path d="M602.55,196.57 A251.25,251.25 0 0 1 606.21,199.03" fill="none" stroke="#f65942" stroke-width="26.5"/>
<path d="M604.84,198.10 A251.25,251.25 0 0 1 608.48,200.60" fill="none" stroke="#f65842" stroke-width="26.5"/>
<path d="M607.12,199.65 A251.25,251.25 0 0 1 610.73,202.19" fill="none" stroke="#f65841" stroke-width="26.5"/>
<path d="M609.38,201.23 A251.25,251.25 0 0 1 612.96,203.81" fill="none" stroke="#f65740" stroke-width="26.5"/>
<path d="M611.63,202.83 A251.25,251.25 0 0 1 615.18,205.45" fill="none" stroke="#f55640" stroke-width="26.5"/>
<path d="M613.85,204.46 A251.25,251.25 0 0 1 617.38,207.11" fill="none" stroke="#f5563f" stroke-width="26.5"/>
<path d="M616.06,206.11 A251.25,251.25 0 0 1 619.56,208.80" fill="none" stroke="#f5553f" stroke-width="26.5"/>
<path d="M618.25,207.79 A251.25,251.25 0 0 1 621.72,210.52" fill="none" stroke="#f5543e" stroke-width="26.5"/>
<path d="M620.42,209.48 A251.25,251.25 0 0 1 623.86,212.25" fill="none" stroke="#f5533e" stroke-width="26.5"/>
<path d="M622.57,211.21 A251.25,251.25 0 0 1 625.98,214.01" fill="none" stroke="#f5533d" stroke-width="26.5"/>
<path d="M624.71,212.95 A251.25,251.25 0 0 1 628.08,215.80" fill="none" stroke="#f4523d" stroke-width="26.5"/>
<path d="M626.82,214.72 A251.25,251.25 0 0 1 630.17,217.60" fill="none" stroke="#f4513c" stroke-width="26.5"/>
<path d="M628.92,216.52 A251.25,251.25 0 0 1 632.23,219.43" fill="none" stroke="#f4503b" stroke-width="26.5"/>
<path d="M630.99,218.33 A251.25,251.25 0 0 1 634.27,221.29" fill="none" stroke="#f4503b" stroke-width="26.5"/>
<path d="M633.05,220.17 A251.25,251.25 0 0 1 636.29,223.16" fill="none" stroke="#f44f3a" stroke-width="26.5"/>
<path d="M635.08,222.03 A251.25,251.25 0 0 1 638.30,225.06" fill="none" stroke="#f44e3a" stroke-width="26.5"/>
<path d="M637.10,223.92 A251.25,251.25 0 0 1 640.28,226.98" fill="none" stroke="#f34e39" stroke-width="26.5"/>
<path d="M639.09,225.82 A251.25,251.25 0 0 1 642.24,228.92" fill="none" stroke="#f34d39" stroke-width="26.5"/>
<path d="M641.06,227.75 A251.25,251.25 0 0 1 644.17,230.88" fill="none" stroke="#f34c38" stroke-width="26.5"/>
<path d="M643.01,229.70 A251.25,251.25 0 0 1 646.09,232.86" fill="none" stroke="#f34c38" stroke-width="26.5"/>
<path d="M644.94,231.67 A251.25,251.25 0 0 1 647.99,234.86" fill="none" stroke="#f34b38" stroke-width="26.5"/>
<path d="M646.85,233.66 A251.25,251.25 0 0 1 649.86,236.89" fill="none" stroke="#f34b37" stroke-width="26.5"/>
<path d="M648.74,235.67 A251.25,251.25 0 0 1 651.71,238.93" fill="none" stroke="#f34b37" stroke-width="26.5"/>
<path d="M650.60,237.70 A251.25,251.25 0 0 1 653.54,241.00" fill="none" stroke="#f24a37" stroke-width="26.5"/>
<path d="M652.44,239.75 A251.25,251.25 0 0 1 655.34,243.08" fill="none" stroke="#f24a37" stroke-width="26.5"/>
<path d="M654.26,241.83 A251.25,251.25 0 0 1 657.12,245.18" fill="none" stroke="#f24a36" stroke-width="26.5"/>
<path d="M656.06,243.92 A251.25,251.25 0 0 1 658.88,247.31" fill="none" stroke="#f24936" stroke-width="26.5"/>
<path d="M657.83,246.03 A251.25,251.25 0 0 1 660.62,249.45" fill="none" stroke="#f24936" stroke-width="26.5"/>
<path d="M659.58,248.16 A251.25,251.25 0 0 1 662.33,251.61" fill="none" stroke="#f24936" stroke-width="26.5"/>
<path d="M661.31,250.31 A251.25,251.25 0 0 1 664.02,253.79" fill="none" stroke="#f24835" stroke-width="26.5"/>
<path d="M663.01,252.48 A251.25,251.25 0 0 1 665.68,255.99" fill="none" stroke="#f24835" stroke-width="26.5"/>
<path d="M664.69,254.67 A251.25,251.25 0 0 1 667.32,258.21" fill="none" stroke="#f24735" stroke-width="26.5"/>
<path d="M666.34,256.88 A251.25,251.25 0 0 1 668.94,260.44" fill="none" stroke="#f24735" stroke-width="26.5"/>
<path d="M667.97,259.10 A251.25,251.25 0 0 1 670.53,262.70" fill="none" stroke="#f14734" stroke-width="26.5"/>
<path d="M669.58,261.34 A251.25,251.25 0 0 1 672.09,264.97" fill="none" stroke="#f14634" stroke-width="26.5"/>
<path d="M671.16,263.60 A251.25,251.25 0 0 1 673.63,267.25" fill="none" stroke="#f14634" stroke-width="26.5"/>
<path d="M672.71,265.88 A251.25,251.25 0 0 1 675.15,269.56" fill="none" stroke="#f14634" stroke-width="26.5"/>
<path d="M674.24,268.17 A251.25,251.25 0 0 1 676.64,271.88" fill="none" stroke="#f14533" stroke-width="26.5"/>
<path d="M675.75,270.48 A251.25,251.25 0 0 1 678.10,274.21" fill="none" stroke="#f14533" stroke-width="26.5"/>
<path d="M677.23,272.81 A251.25,251.25 0 0 1 679.54,276.57" fill="none" stroke="#f14533" stroke-width="26.5"/>
<path d="M678.68,275.15 A251.25,251.25 0 0 1 680.96,278.93" fill="none" stroke="#f14433" stroke-width="26.5"/>
<path d="M680.11,277.51 A251.25,251.25 0 0 1 682.34,281.32" fill="none" stroke="#f14432" stroke-width="26.5"/>
<path d="M681.51,279.89 A251.25,251.25 0 0 1 683.70,283.72" fill="none" stroke="#f14432" stroke-width="26.5"/>
<path d="M682.89,282.28 A251.25,251.25 0 0 1 685.04,286.13" fill="none" stroke="#f04332" stroke-width="26.5"/>
<path d="M684.24,284.68 A251.25,251.25 0 0 1 686.35,288.56" fill="none" stroke="#f04332" stroke-width="26.5"/>
<path d="M685.57,287.10 A251.25,251.25 0 0 1 687.63,291.00" fill="none" stroke="#f04331" stroke-width="26.5"/>
<path d="M686.86,289.53 A251.25,251.25 0 0 1 688.88,293.45" fill="none" stroke="#f04231" stroke-width="26.5"/>
<path d="M688.13,291.98 A251.25,251.25 0 0 1 690.11,295.92" fill="none" stroke="#f04231" stroke-width="26.5"/>
<path d="M689.38,294.44 A251.25,251.25 0 0 1 691.31,298.41" fill="none" stroke="#f04131" stroke-width="26.5"/>
<path d="M690.59,296.92 A251.25,251.25 0 0 1 692.48,300.90" fill="none" stroke="#f04130" stroke-width="26.5"/>
<path d="M691.78,299.40 A251.25,251.25 0 0 1 693.63,303.41" fill="none" stroke="#f04130" stroke-width="26.5"/>
<path d="M692.94,301.90 A251.25,251.25 0 0 1 694.74,305.93" fill="none" stroke="#f04030" stroke-width="26.5"/>
<path d="M694.08,304.42 A251.25,251.25 0 0 1 695.83,308.46" fill="none" stroke="#ef4030" stroke-width="26.5"/>
<path d="M695.18,306.94 A251.25,251.25 0 0 1 696.90,311.01" fill="none" stroke="#ef402f" stroke-width="26.5"/>
<path d="M696.26,309.48 A251.25,251.25 0 0 1 697.93,313.57" fill="none" stroke="#ef3f2f" stroke-width="26.5"/>
<path d="M697.31,312.03 A251.25,251.25 0 0 1 698.94,316.13" fill="none" stroke="#ef3f2f" stroke-width="26.5"/>
<path d="M698.34,314.59 A251.25,251.25 0 0 1 699.91,318.71" fill="none" stroke="#ef3f2f" stroke-width="26.5"/>
<path d="M699.33,317.16 A251.25,251.25 0 0 1 700.86,321.30" fill="none" stroke="#ef3e2e" stroke-width="26.5"/>
<path d="M700.30,319.75 A251.25,251.25 0 0 1 701.78,323.90" fill="none" stroke="#ef3e2e" stroke-width="26.5"/>
<path d="M701.24,322.34 A251.25,251.25 0 0 1 702.68,326.51" fill="none" stroke="#ef3e2e" stroke-width="26.5"/>
<path d="M702.14,324.94 A251.25,251.25 0 0 1 703.54,329.13" fill="none" stroke="#ef3d2e" stroke-width="26.5"/>
<path d="M703.03,327.56 A251.25,251.25 0 0 1 704.37,331.76" fill="none" stroke="#ef3d2d" stroke-width="26.5"/>
<path d="M703.88,330.18 A251.25,251.25 0 0 1 705.18,334.39" fill="none" stroke="#ee3c2d" stroke-width="26.5"/>
<path d="M704.70,332.81 A251.25,251.25 0 0 1 705.96,337.04" fill="none" stroke="#ee3c2d" stroke-width="26.5"/>
<path d="M705.49,335.45 A251.25,251.25 0 0 1 706.71,339.69" fill="none" stroke="#ee3c2d" stroke-width="26.5"/>
<path d="M706.26,338.10 A251.25,251.25 0 0 1 707.42,342.36" fill="none" stroke="#ee3b2c" stroke-width="26.5"/>
<path d="M707.00,340.76 A251.25,251.25 0 0 1 707.70,343.42" fill="none" stroke="#ee3b2c" stroke-width="26.5"/>
<circle cx="221.5" cy="343.7" r="34" fill="#4a2fa8"/>
<circle cx="707.6" cy="343.4" r="33.5" fill="#ee3c2d"/>
<circle cx="464.4" cy="406" r="202" fill="#ffefee"/>
<g clip-path="url(#lensclip)">
<polygon points="549.0,258.0 559.0,260.0 576.5,265.0 591.5,282.5 601.5,290.0 609.0,280.0 611.5,270.0 659.0,270.0 684.0,330.0 684.0,442.5 639.8,442.5 624.0,442.5 624.0,430.0 604.0,410.0 610.2,402.5 610.2,392.5 591.5,390.0 581.5,377.5 564.0,377.5 571.5,370.0 569.0,360.0 559.0,350.0 546.5,337.5 544.0,328.8 549.0,322.5 556.5,312.5 556.5,302.5 549.0,290.0 544.0,283.8 544.0,262.5 549.0,262.5" fill="#dca4d4"/>
<polygon points="561.5,277.5 567.8,275.0 574.0,280.0 584.0,292.5 591.5,283.8 595.2,287.5 581.5,305.0 564.0,283.8" fill="#ffefee"/>
<polygon points="604.0,276.2 610.2,270.0 612.8,283.8 624.0,288.8 620.2,292.5 609.0,290.0" fill="#ffefee"/>
<polygon points="455.2,312.5 455.2,332.5 464.0,337.5 477.8,330.0 477.8,316.2 486.5,305.0 489.0,297.5 510.2,276.2 519.0,270.0 534.0,270.0 534.0,262.5 549.0,262.5 549.0,258.0 522.8,258.0 519.0,262.0 502.8,262.0 466.5,305.0 461.5,307.5" fill="#f46a4c"/>
<polygon points="477.8,330.0 487.8,340.0 487.8,352.5 500.2,352.5 500.2,337.5 509.0,330.0 511.5,312.5 504.0,312.5 509.0,302.5 519.0,292.5 526.5,288.8 526.5,278.8 519.0,270.0 510.2,276.2 489.0,297.5 486.5,305.0 477.8,316.2" fill="#fa9478" stroke="#fde3dc" stroke-width="0.8" stroke-linejoin="round"/>
<polygon points="526.5,278.8 526.5,288.8 531.5,290.0 525.2,302.5 527.8,316.2 534.0,323.8 549.0,322.5 556.5,312.5 556.5,302.5 549.0,290.0 544.0,283.8 544.0,262.5 534.0,262.5 534.0,270.0 519.0,270.0" fill="#fa9478" stroke="#fde3dc" stroke-width="0.8" stroke-linejoin="round"/>
<polygon points="531.5,328.8 544.0,328.8 546.5,337.5 559.0,350.0 546.5,355.0 536.5,360.0 525.2,353.8 525.2,342.5 534.0,337.5" fill="#fbb09a" stroke="#fde3dc" stroke-width="0.8" stroke-linejoin="round"/>
<polyline points="525.2,347.5 536.5,343.8 549.0,347.5" fill="none" stroke="#fde3dc" stroke-width="0.8"/>
<polygon points="466.5,343.8 472.8,341.2 473.5,355.0 470.2,360.0 465.2,356.2" fill="#f46a4c"/>
<polygon points="405.2,342.9 409.3,340.0 415.1,340.0 418.7,345.2 419.8,349.3 423.9,351.7 423.9,359.3 429.2,365.1 433.9,371.0 433.9,378.0 428.0,379.2 424.5,385.1 418.7,386.2 414.0,385.6 409.3,390.9 406.4,395.6 404.0,393.8 405.2,389.7 409.9,382.7 411.0,380.4 408.1,374.5 408.1,370.4 414.0,369.8 414.0,357.5 410.5,356.9 410.5,352.3 406.4,345.8" fill="#f6805f"/>
<polygon points="405.2,359.3 409.3,359.3 409.3,363.4 405.2,363.4" fill="#f6805f"/>
<polygon points="392.9,356.9 397.6,358.1 401.7,362.2 401.7,366.9 398.7,371.0 394.1,376.9 389.4,381.5 387.6,381.0 391.7,375.7 394.6,369.8 395.2,364.0 394.6,359.3" fill="#f4694b"/>
<polyline points="397.3,358.7 397.6,368.4 401.7,368.4" fill="none" stroke="#ffffff" stroke-width="1"/>
<polygon points="441.5,385.0 445.2,378.8 456.5,367.5 456.5,392.5 449.0,392.5" fill="#f98663" stroke="#fde3dc" stroke-width="0.8" stroke-linejoin="round"/>
<polygon points="456.5,367.5 466.5,367.5 469.0,360.0 474.0,361.2 479.0,367.5 489.0,367.5 489.0,382.5 485.2,390.0 489.0,397.5 484.0,405.0 486.5,415.0 479.0,420.0 459.0,420.0 456.5,392.5" fill="#f98663" stroke="#fde3dc" stroke-width="0.8" stroke-linejoin="round"/>
<polygon points="409.8,400.2 417.5,398.0 424.5,395.5 427.0,399.0 438.5,386.2 441.5,385.0 449.0,392.5 456.5,392.5 459.0,420.0 456.5,425.0 456.5,437.5 444.0,440.0 429.0,437.5 419.0,430.0 421.5,412.5 411.5,405.0" fill="#f99b79" stroke="#fde3dc" stroke-width="0.8" stroke-linejoin="round"/>
<polygon points="459.0,420.0 479.0,420.0 486.5,415.0 504.0,415.0 501.5,422.5 484.0,425.0 459.0,426.2" fill="#f9906e" stroke="#fde3dc" stroke-width="0.8" stroke-linejoin="round"/>
<polygon points="459.0,426.2 484.0,425.0 486.5,430.0 494.0,440.0 504.0,450.0 509.0,460.0 506.5,470.0 501.5,480.0 494.0,477.5 496.5,465.0 484.0,450.0 474.0,440.0 469.0,432.5 461.5,435.0" fill="#f98d6a"/>
<polygon points="484.0,480.0 494.0,482.5 491.5,490.0 484.0,487.5" fill="#f98d6a"/>
<polygon points="466.5,447.5 471.5,447.5 471.5,457.5 466.5,457.5" fill="#f98d6a"/>
<polygon points="383.5,440.0 396.0,435.0 416.0,435.0 428.5,442.5 431.0,455.0 426.0,470.0 418.5,480.0 406.0,490.0 391.0,485.0 386.0,475.0 383.5,460.0" fill="#fba585"/>
<polyline points="391.0,440.0 391.0,480.0" fill="none" stroke="#fde3dc" stroke-width="0.8"/>
<polygon points="491.5,367.5 496.5,361.2 524.0,360.0 536.5,370.0 534.0,385.0 524.0,392.5 501.5,392.5 491.5,382.5" fill="#fbb7a3" stroke="#fde3dc" stroke-width="0.8" stroke-linejoin="round"/>
<polygon points="489.0,382.5 491.5,382.5 501.5,392.5 524.0,392.5 529.0,396.2 529.0,405.0 524.0,412.5 504.0,415.0 486.5,415.0 484.0,405.0 489.0,397.5 485.2,390.0" fill="#fba88f" stroke="#fde3dc" stroke-width="0.8" stroke-linejoin="round"/>
<polyline points="485.2,390.0 499.0,387.5 509.0,395.5 529.0,396.2" fill="none" stroke="#fde3dc" stroke-width="0.8"/>
<polyline points="484.0,405.0 501.5,402.5 509.0,395.5" fill="none" stroke="#fde3dc" stroke-width="0.8"/>
<polygon points="486.5,400.0 504.0,398.8 507.8,406.2 501.5,413.8 486.5,414.5 484.0,405.0" fill="#f98a64" stroke="#fde3dc" stroke-width="0.8" stroke-linejoin="round"/>
<polygon points="536.5,360.0 546.5,355.0 559.0,350.0 569.0,360.0 571.5,370.0 564.0,377.5 539.0,380.0 536.5,370.0" fill="#b48bd8"/>
<polygon points="530.2,395.0 539.0,382.5 564.0,382.5 569.0,377.5 581.5,377.5 591.5,390.0 610.2,392.5 610.2,402.5 604.0,410.0 594.0,410.0 589.0,427.5 584.0,427.5 584.0,417.5 574.0,415.0 561.5,422.5 556.5,407.5 554.0,403.8 530.2,403.8" fill="#7e57c9"/>
<polygon points="529.0,405.0 554.0,405.0 559.0,412.5 561.5,430.0 544.0,435.0 531.5,430.0 526.5,417.5" fill="#efb0cf" stroke="#fde3dc" stroke-width="0.8" stroke-linejoin="round"/>
<polygon points="504.0,415.0 524.0,412.5 526.5,417.5 531.5,430.0 534.0,437.5 524.0,440.0 514.0,430.0 501.5,425.0" fill="#f8b4c4" stroke="#fde3dc" stroke-width="0.8" stroke-linejoin="round"/>
<polygon points="504.0,427.5 519.0,425.0 519.0,440.0 505.2,441.2 501.5,432.5" fill="#b88ad6"/>
<polygon points="520.2,437.5 527.8,436.2 534.0,447.5 531.5,455.0 524.0,452.5" fill="#7e57c9"/>
<polygon points="514.0,440.0 520.2,440.0 524.0,452.5 519.0,450.0" fill="#f8b4c4"/>
<polygon points="534.0,437.5 544.0,435.0 559.0,432.5 559.0,445.0 544.0,450.0 534.0,447.5" fill="#efb0cf" stroke="#fde3dc" stroke-width="0.8" stroke-linejoin="round"/>
<polygon points="524.0,452.5 531.5,455.0 544.0,450.0 549.0,455.0 534.0,460.0 531.5,470.0 539.0,480.0 529.0,480.0 524.0,465.0" fill="#fcae8c"/>
<polygon points="609.8,380.0 689.5,380.0 689.5,454.7 659.6,454.7 654.6,454.7 647.2,452.2 643.4,442.3 624.7,442.3 624.7,439.8 607.3,417.4 607.3,407.4" fill="#dca4d4"/>
<polygon points="642.2,388.7 662.1,388.7 662.1,409.9 654.6,417.4 642.2,402.4" fill="#b88ad6"/>
<polygon points="654.6,417.4 663.3,409.9 665.8,417.4 665.8,439.8 670.8,442.3 659.6,453.5 647.2,429.8" fill="#ffefee"/>
<polygon points="624.7,442.3 643.4,442.3 647.2,452.2 642.2,452.7 639.7,448.5 624.7,447.7" fill="#c69ad9"/>
<polygon points="642.2,453.5 647.2,452.2 652.6,463.4 642.2,463.4" fill="#f9bcc4"/>
<polygon points="647.2,452.2 654.6,454.7 656.6,460.9 652.6,463.4" fill="#a57fd8"/>
<polygon points="561.2,454.7 570.0,446.7 601.1,446.7 604.8,452.2 623.5,452.2 639.7,452.2 640.9,464.7 640.9,482.1 602.3,482.1 599.8,487.1 570.0,487.1 561.2,478.4" fill="#e8a9cf"/>
<polygon points="640.9,464.7 654.1,464.7 652.6,479.6 644.7,488.3 640.9,482.1" fill="#5a38bd"/>
<polygon points="602.3,483.3 627.2,483.3 627.2,489.6 616.0,505.7 607.3,505.7 602.3,497.0" fill="#5a38bd"/>
<polygon points="627.2,483.3 640.9,482.6 644.7,488.3 634.7,499.5 627.2,512.0 618.5,515.7 616.0,505.7 627.2,489.6" fill="#7553cb"/>
<polygon points="598.6,513.2 601.1,513.2 601.1,525.7 598.6,525.7" fill="#f4694b"/>
<polygon points="599.8,497.0 604.8,497.0 605.3,509.5 600.3,510.0" fill="#f9bcb4"/>
<polygon points="604.8,509.5 613.5,508.2 613.5,519.4 606.1,529.4 603.6,519.4" fill="#c69ad9"/>
<polygon points="611.0,519.4 624.7,519.4 619.8,529.4 609.8,532.4" fill="#f9bcb4"/>
<polygon points="583.7,495.0 592.4,494.0 592.4,497.5 584.2,498.5" fill="#f9875f"/>
<polygon points="305.0,285.0 314.0,273.0 328.0,274.0 337.5,265.0 338.0,252.0 355.0,239.0 358.5,241.6 365.5,232.0 380.0,215.0 330.0,220.0 300.0,260.0" fill="#ffffff"/>
<polygon points="357.0,296.0 371.0,280.5 378.0,289.0 364.0,304.0" fill="#f4694b"/>
<polygon points="343.8,562.5 357.5,545.0 357.5,527.5 376.2,508.8 395.0,508.8 395.0,575.0 375.0,575.0 370.0,570.0 352.5,570.0" fill="#a57fd8"/>
<polygon points="396.2,502.5 402.5,497.0 450.0,497.0 455.0,501.2 455.0,530.0 473.8,530.0 473.8,587.5 462.5,590.0 457.5,610.0 407.5,610.0 390.0,590.0" fill="#7b52cc"/>
<polygon points="455.0,501.2 473.8,522.5 473.8,530.0 455.0,530.0" fill="#8159cf" stroke="#feebea" stroke-width="0.8" stroke-linejoin="round"/>
<polygon points="475.0,520.0 535.0,520.0 542.5,530.0 542.5,587.5 535.0,590.0 535.0,610.0 492.5,610.0 475.0,585.0" fill="#4a30b5"/>
<polygon points="462.5,590.0 473.8,587.5 475.0,585.0 492.5,602.5 492.5,615.0 457.5,615.0 457.5,602.5" fill="#ffffff"/>
<polygon points="545.5,532.0 555.5,524.5 593.0,524.5 605.5,537.0 598.0,544.5 590.5,540.8 588.0,543.2 595.5,550.8 583.0,562.0 573.0,572.0 545.5,587.0" fill="#6f48c8"/>
</g>
<circle cx="464.4" cy="406" r="202" fill="none" stroke="#ffffff" stroke-width="7" stroke-opacity="0.35"/>
<circle cx="464.4" cy="406" r="202" fill="none" stroke="#ffffff" stroke-width="4.2"/>
<circle cx="240" cy="654.5" r="70" fill="#ffefee"/>
<g clip-path="url(#carclip)">
<polygon points="199.1,602.2 208.8,597.3 208.8,624.7 202.0,611.0" fill="#fb8064"/>
<polygon points="185.4,638.4 190.3,633.5 203.0,633.5 205.9,637.4 209.8,639.3 211.8,644.2 205.9,641.3 202.0,637.4 191.2,637.4 187.3,640.3" fill="#f3bccb"/>
<polygon points="211.8,644.2 232.3,645.2 232.3,652.0 212.7,651.6" fill="#f3bccb"/>
<polygon points="246.9,654.0 251.8,654.0 259.6,661.8 255.7,666.7 246.9,666.7" fill="#e6b5d3"/>
<polygon points="268.4,663.8 277.2,663.8 277.2,669.6 268.4,669.6" fill="#f9915f"/>
<polygon points="160.0,642.3 169.8,641.3 170.7,655.9 165.9,661.8 160.0,663.8" fill="#f9b9b4"/>
<polygon points="163.9,667.7 173.7,666.7 175.6,683.1 165.9,683.1" fill="#b48bd8"/>
</g>
<circle cx="240" cy="654.5" r="70" fill="none" stroke="#ffffff" stroke-width="4" stroke-opacity="0.9"/>
<text class="serif" fill="#2b2560" font-weight="bold"><tspan x="59.10" y="113.60" font-size="111.50" textLength="75.12" lengthAdjust="spacingAndGlyphs">C</tspan><tspan x="128.07" y="112.80" font-size="109.06" textLength="86.77" lengthAdjust="spacingAndGlyphs" font-weight="normal" stroke="#2b2560" stroke-width="1.6" stroke-linejoin="round">O</tspan><tspan x="211.95" y="112.80" font-size="109.06" textLength="31.97" lengthAdjust="spacingAndGlyphs" stroke="#2b2560" stroke-width="1.6" stroke-linejoin="round">S</tspan><tspan x="245.77" y="112.70" font-size="108.75" textLength="43.00" lengthAdjust="spacingAndGlyphs" stroke="#2b2560" stroke-width="1.8" stroke-linejoin="round">T</tspan></text>
<text class="serif" transform="translate(306.50,95.50) scale(1.0034,1.0000)" font-size="82" fill="#f87e62" text-anchor="start" font-style="italic">of</text>
<text class="serif" fill="#2b2560" font-weight="bold"><tspan x="406.33" y="112.60" font-size="108.45" textLength="37.96" lengthAdjust="spacingAndGlyphs" stroke="#2b2560" stroke-width="2.0" stroke-linejoin="round">L</tspan><tspan x="443.36" y="113.60" font-size="106.00" textLength="28.36" lengthAdjust="spacingAndGlyphs" font-family="Liberation Sans, sans-serif">I</tspan><tspan x="472.63" y="112.90" font-size="109.36" textLength="56.85" lengthAdjust="spacingAndGlyphs" stroke="#2b2560" stroke-width="1.4" stroke-linejoin="round">V</tspan><tspan x="528.41" y="113.60" font-size="106.00" textLength="28.17" lengthAdjust="spacingAndGlyphs" font-family="Liberation Sans, sans-serif">I</tspan><tspan x="561.28" y="112.70" font-size="108.75" textLength="42.60" lengthAdjust="spacingAndGlyphs" stroke="#2b2560" stroke-width="1.8" stroke-linejoin="round">N</tspan><tspan x="608.86" y="113.10" font-size="109.97" textLength="70.46" lengthAdjust="spacingAndGlyphs" stroke="#2b2560" stroke-width="1.0" stroke-linejoin="round">G</tspan></text>
<text class="serif" fill="#2b2560" font-weight="bold"><tspan x="709.43" y="113.60" font-size="106.00" textLength="29.33" lengthAdjust="spacingAndGlyphs" font-family="Liberation Sans, sans-serif">I</tspan><tspan x="743.30" y="112.70" font-size="108.75" textLength="41.97" lengthAdjust="spacingAndGlyphs" stroke="#2b2560" stroke-width="1.8" stroke-linejoin="round">N</tspan><tspan x="795.98" y="113.10" font-size="109.97" textLength="65.16" lengthAdjust="spacingAndGlyphs" stroke="#2b2560" stroke-width="1.0" stroke-linejoin="round">D</tspan><tspan x="867.50" y="112.60" font-size="108.45" textLength="35.30" lengthAdjust="spacingAndGlyphs" stroke="#2b2560" stroke-width="2.0" stroke-linejoin="round">E</tspan><tspan x="906.35" y="112.80" font-size="109.06" textLength="54.97" lengthAdjust="spacingAndGlyphs" stroke="#2b2560" stroke-width="1.6" stroke-linejoin="round">X</tspan></text>
<text transform="translate(62.50,167.50) scale(1.0229,1.0000)" font-size="49" fill="#f67b5f" text-anchor="start" font-weight="bold" stroke="#f67b5f" stroke-width="1">2026</text>
<text transform="translate(639.00,162.50) scale(0.9834,1.0000)" font-size="21.5" fill="#3a2f66" text-anchor="start">Using New York City as a baseline</text>
<text transform="translate(672.00,193.00) scale(0.9750,1.0000)" font-size="21.5" fill="#3a2f66" text-anchor="start">of 100, the Cost of Living Index</text>
<text transform="translate(692.00,222.00) scale(0.9538,1.0000)" font-size="21.5" fill="#3a2f66" text-anchor="start">measures the relative price of</text>
<text transform="translate(699.50,251.00) scale(0.9565,1.0000)" font-size="21.5" fill="#3a2f66" text-anchor="start">everyday expenses plus rent.</text>
<text transform="translate(769.00,298.00)" font-size="15.5" fill="#b6a0b9" text-anchor="start">For example, a value of 120</text>
<text transform="translate(769.00,320) scale(0.9987,1)" font-size="15.5" fill="#b6a0b9">indicates that prices are 20<tspan font-size="8.5" dy="-6" dx="0.5">%</tspan></text>
<text transform="translate(790.50,342.00) scale(0.9944,1.0000)" font-size="15.5" fill="#b6a0b9" text-anchor="start">higher than those in NYC.</text>
<text transform="translate(156.00,203.00) scale(0.6587,1.0000)" font-size="20" fill="#b9a0b8" text-anchor="start" font-weight="bold">GLOBAL MEDIAN</text>
<polygon points="268.5,204 277.5,203.5 275,211.5" fill="#b9a0b8"/>
<text transform="translate(165.00,342.00) scale(0.7048,1.0000)" font-size="19.5" fill="#2b2560" text-anchor="end" font-weight="bold">INDEX</text>
<text transform="translate(165.00,364.00) scale(0.6266,1.0000)" font-size="19.5" fill="#2b2560" text-anchor="end" font-weight="bold">SCORES</text>
<polygon points="172.5,342 178.5,345.7 172.5,349.5" fill="#2b2560"/>
<text transform="translate(220.80,354.30) scale(0.8725,1.0000)" font-size="26.5" fill="#ffffff" text-anchor="middle" font-weight="bold" font-style="italic" stroke="#ffffff" stroke-width="0.9">12.3</text>
<text transform="translate(708.00,354.20) scale(0.8142,1.0000)" font-size="26.5" fill="#ffffff" text-anchor="middle" font-weight="bold" font-style="italic" stroke="#ffffff" stroke-width="0.9">124</text>
<text transform="translate(289.00,224.50) rotate(-50)" font-size="18" fill="#4a3370" text-anchor="middle" font-weight="bold" font-style="italic" dominant-baseline="central">30.9</text>
<text transform="translate(636.00,223.00) rotate(42)" font-size="17" fill="#ffffff" text-anchor="middle" font-weight="bold" font-style="italic" dominant-baseline="central">100</text>
<text transform="translate(472.25,252.75) scale(0.7017,1.0000)" font-size="18.5" fill="#2b2560" text-anchor="middle" font-weight="bold">RANK</text>
<polygon points="468.5,259.5 475.5,259.5 472,264.5" fill="#2b2560"/>
<polyline points="347.0,397.8 418.5,397.8 418.5,392.0" fill="none" stroke="#f4694b" stroke-width="0.9"/>
<polyline points="421.0,397.8 421.0,392.0" fill="none" stroke="#f4694b" stroke-width="0.9"/>
<polyline points="352.0,441.3 364.8,441.3 364.8,406.3 423.3,406.3 423.3,393.0" fill="none" stroke="#2b2560" stroke-width="0.9"/>
<polyline points="925.5,527.5 915.5,527.5 880.0,563.0" fill="none" stroke="#f4815f" stroke-width="0.9"/>
<polyline points="884.0,650.3 838.5,650.3 838.5,640.0" fill="none" stroke="#2b2560" stroke-width="0.9"/>
<polyline points="834.0,640.0 840.5,640.0" fill="none" stroke="#f4694b" stroke-width="1.2"/>
<circle cx="418.5" cy="392.5" r="1.3" fill="#f4694b"/><circle cx="423.4" cy="392.7" r="1.3" fill="#ee3e2e"/>
<text transform="translate(323.50,295.00) scale(0.7150,1.0000)" font-size="12.6" fill="#2b2560" text-anchor="end" font-weight="bold" stroke="#2b2560" stroke-width="0.45">ICELAND</text>
<text transform="translate(323.50,309.75)" font-size="12.2" fill="#2b2560" text-anchor="end" font-weight="bold" font-style="italic" stroke="#2b2560" stroke-width="0.3">75.9</text>
<circle cx="346.00" cy="297.00" r="17.00" fill="#f4694b" stroke="#2b2560" stroke-width="1.6"/>
<text class="serif" transform="translate(346.00,305.25)" font-size="25" fill="#ffffff" text-anchor="middle" font-weight="bold">7</text>
<text transform="translate(451.00,279.00) scale(0.7150,1.0000)" font-size="12.6" fill="#2b2560" text-anchor="end" font-weight="bold" stroke="#2b2560" stroke-width="0.45">NORWAY</text>
<text transform="translate(451.00,293.50)" font-size="12.2" fill="#2b2560" text-anchor="end" font-weight="bold" font-style="italic" stroke="#2b2560" stroke-width="0.3">59.4</text>
<circle cx="472.00" cy="282.00" r="11.75" fill="#f4694b" stroke="#ffffff" stroke-width="2.0"/>
<text class="serif" transform="translate(472.00,287.61)" font-size="17" fill="#ffffff" text-anchor="middle" font-weight="bold" letter-spacing="-0.5">14</text>
<text transform="translate(393.50,322.00) scale(0.7150,1.0000)" font-size="12.6" fill="#2b2560" text-anchor="end" font-weight="bold" stroke="#2b2560" stroke-width="0.45">U.K.</text>
<text transform="translate(393.50,336.00)" font-size="12.2" fill="#2b2560" text-anchor="end" font-weight="bold" font-style="italic" stroke="#2b2560" stroke-width="0.3">51.9</text>
<circle cx="411.50" cy="324.75" r="10.80" fill="#f98d6f" stroke="#ffffff" stroke-width="2.0"/>
<text class="serif" transform="translate(411.50,330.36)" font-size="17" fill="#ffffff" text-anchor="middle" font-weight="bold" letter-spacing="-0.5">22</text>
<circle cx="494.75" cy="325.00" r="12.50" fill="#fa9478" stroke="#ffffff" stroke-width="2.0" stroke-opacity="0.75"/>
<text class="serif" transform="translate(494.75,330.61)" font-size="17" fill="#2b2560" text-anchor="middle" font-weight="bold" letter-spacing="-0.5">31</text>
<circle cx="542.00" cy="307.50" r="12.50" fill="#fa9478" stroke="#ffffff" stroke-width="2.0" stroke-opacity="0.75"/>
<text class="serif" transform="translate(542.00,313.11)" font-size="17" fill="#2b2560" text-anchor="middle" font-weight="bold" letter-spacing="-0.5">29</text>
<circle cx="516.00" cy="378.00" r="13.00" fill="#fbb7a3" stroke="#ffffff" stroke-width="2.0" stroke-opacity="0.75"/>
<text class="serif" transform="translate(516.00,383.61)" font-size="17" fill="#2b2560" text-anchor="middle" font-weight="bold" letter-spacing="-0.5">64</text>
<circle cx="553.25" cy="363.75" r="12.00" fill="#b48bd8" stroke="#ffffff" stroke-width="2.0"/>
<text class="serif" transform="translate(553.25,368.54)" font-size="14.5" fill="#ffffff" text-anchor="middle" font-weight="bold" letter-spacing="-0.5">121</text>
<circle cx="573.25" cy="398.00" r="12.50" fill="#7e57c9" stroke="#ffffff" stroke-width="2.0"/>
<text class="serif" transform="translate(573.25,402.79)" font-size="14.5" fill="#ffffff" text-anchor="middle" font-weight="bold" letter-spacing="-0.5">138</text>
<circle cx="467.75" cy="407.50" r="17.50" fill="#f0583f" stroke="#2b2560" stroke-width="2"/>
<text class="serif" transform="translate(467.75,416.08)" font-size="26" fill="#ffffff" text-anchor="middle" font-weight="bold">3</text>
<text transform="translate(358.00,361.25) scale(0.7150,1.0000)" font-size="12.6" fill="#2b2560" text-anchor="end" font-weight="bold" stroke="#2b2560" stroke-width="0.45">IRELAND</text>
<text transform="translate(358.00,375.50)" font-size="12.2" fill="#2b2560" text-anchor="end" font-weight="bold" font-style="italic" stroke="#2b2560" stroke-width="0.3">58.7</text>
<circle cx="380.25" cy="364.25" r="11.75" fill="#f57153" stroke="#ffffff" stroke-width="2.0"/>
<text class="serif" transform="translate(380.25,369.86)" font-size="17" fill="#ffffff" text-anchor="middle" font-weight="bold" letter-spacing="-0.5">15</text>
<text transform="translate(313.00,397.50) scale(0.7150,1.0000)" font-size="12.6" fill="#2b2560" text-anchor="end" font-weight="bold" stroke="#2b2560" stroke-width="0.45">GUERNSEY</text>
<text transform="translate(313.00,411.25)" font-size="12.2" fill="#2b2560" text-anchor="end" font-weight="bold" font-style="italic" stroke="#2b2560" stroke-width="0.3">65.3</text>
<circle cx="335.25" cy="397.50" r="12.00" fill="#f4694b" stroke="#ffffff" stroke-width="2.0"/>
<text class="serif" transform="translate(335.25,403.11)" font-size="17" fill="#ffffff" text-anchor="middle" font-weight="bold" letter-spacing="-0.5">11</text>
<text transform="translate(313.00,440.00) scale(0.7150,1.0000)" font-size="12.6" fill="#2b2560" text-anchor="end" font-weight="bold" stroke="#2b2560" stroke-width="0.45">JERSEY</text>
<text transform="translate(313.00,453.75)" font-size="12.2" fill="#2b2560" text-anchor="end" font-weight="bold" font-style="italic" stroke="#2b2560" stroke-width="0.3">72.5</text>
<circle cx="335.25" cy="442.00" r="17.00" fill="#f4694b" stroke="#2b2560" stroke-width="1.6"/>
<text class="serif" transform="translate(335.25,450.25)" font-size="25" fill="#ffffff" text-anchor="middle" font-weight="bold">8</text>
<text transform="translate(413.00,424.50) scale(0.7150,1.0000)" font-size="12.6" fill="#2b2560" text-anchor="end" font-weight="bold" stroke="#2b2560" stroke-width="0.45">FRANCE</text>
<text transform="translate(413.00,438.00)" font-size="12.2" fill="#2b2560" text-anchor="end" font-weight="bold" font-style="italic" stroke="#2b2560" stroke-width="0.3">47.5</text>
<circle cx="434.00" cy="427.00" r="12.50" fill="#f98d6a" stroke="#ffffff" stroke-width="2.0" stroke-opacity="0.75"/>
<text class="serif" transform="translate(434.00,432.61)" font-size="17" fill="#2b2560" text-anchor="middle" font-weight="bold" letter-spacing="-0.5">32</text>
<text transform="translate(385.50,475.75) scale(0.7150,1.0000)" font-size="12.6" fill="#2b2560" text-anchor="end" font-weight="bold" stroke="#2b2560" stroke-width="0.45">SPAIN</text>
<text transform="translate(385.50,489.50)" font-size="12.2" fill="#2b2560" text-anchor="end" font-weight="bold" font-style="italic" stroke="#2b2560" stroke-width="0.3">39.0</text>
<circle cx="405.25" cy="476.25" r="12.50" fill="#fba585" stroke="#ffffff" stroke-width="2.0" stroke-opacity="0.75"/>
<text class="serif" transform="translate(405.25,481.86)" font-size="17" fill="#2b2560" text-anchor="middle" font-weight="bold" letter-spacing="-0.5">46</text>
<text transform="translate(434.00,457.50) scale(0.7150,1.0000)" font-size="12.6" fill="#2b2560" text-anchor="start" font-weight="bold" stroke="#2b2560" stroke-width="0.45">ITALY</text>
<text transform="translate(434.00,471.25)" font-size="12.2" fill="#2b2560" text-anchor="start" font-weight="bold" font-style="italic" stroke="#2b2560" stroke-width="0.3">43.1</text>
<circle cx="477.25" cy="454.25" r="12.00" fill="#f98d6a" stroke="#ffffff" stroke-width="2.0" stroke-opacity="0.75"/>
<text class="serif" transform="translate(477.25,459.86)" font-size="17" fill="#2b2560" text-anchor="middle" font-weight="bold" letter-spacing="-0.5">40</text>
<text transform="translate(487.50,475.00) scale(0.7150,1.0000)" font-size="12.6" fill="#2b2560" text-anchor="start" font-weight="bold" stroke="#2b2560" stroke-width="0.45">GREECE</text>
<text transform="translate(521.50,489.25)" font-size="12.2" fill="#2b2560" text-anchor="end" font-weight="bold" font-style="italic" stroke="#2b2560" stroke-width="0.3">36.0</text>
<circle cx="539.50" cy="475.50" r="11.50" fill="#fcae8c" stroke="#ffffff" stroke-width="2.0" stroke-opacity="0.75"/>
<text class="serif" transform="translate(539.50,481.11)" font-size="17" fill="#2b2560" text-anchor="middle" font-weight="bold" letter-spacing="-0.5">55</text>
<text transform="translate(556.50,465.00) scale(0.7150,1.0000)" font-size="12.6" fill="#2b2560" text-anchor="start" font-weight="bold" stroke="#2b2560" stroke-width="0.45">TÜRKIYE</text>
<text transform="translate(595.50,479.25)" font-size="12.2" fill="#2b2560" text-anchor="end" font-weight="bold" font-style="italic" stroke="#2b2560" stroke-width="0.3">27.6</text>
<circle cx="614.00" cy="468.75" r="12.00" fill="#e8a9cf" stroke="#ffffff" stroke-width="2.0" stroke-opacity="0.75"/>
<text class="serif" transform="translate(614.00,474.36)" font-size="17" fill="#2b2560" text-anchor="middle" font-weight="bold" letter-spacing="-0.5">92</text>
<circle cx="377.50" cy="541.25" r="12.50" fill="#a57fd8" stroke="#ffffff" stroke-width="2.0"/>
<text class="serif" transform="translate(377.50,546.03)" font-size="14.5" fill="#ffffff" text-anchor="middle" font-weight="bold" letter-spacing="-0.5">125</text>
<circle cx="435.50" cy="542.00" r="13.00" fill="#7b52cc" stroke="#ffffff" stroke-width="2.0"/>
<text class="serif" transform="translate(435.50,546.78)" font-size="14.5" fill="#ffffff" text-anchor="middle" font-weight="bold" letter-spacing="-0.5">145</text>
<text transform="translate(434.50,570.00) scale(0.7150,1.0000)" font-size="12.6" fill="#ffffff" text-anchor="middle" font-weight="bold" stroke="#ffffff" stroke-width="0.45">ALGERIA</text>
<text transform="translate(434.50,583.75)" font-size="12.2" fill="#ffffff" text-anchor="middle" font-weight="bold" font-style="italic" stroke="#ffffff" stroke-width="0.3">17.1</text>
<circle cx="510.5" cy="518.75" r="21.5" fill="#4a30b5" stroke="#ffffff" stroke-width="3.2"/>
<text class="serif" transform="translate(510.50,527.50)" font-size="27" fill="#ffffff" text-anchor="middle" font-weight="bold" letter-spacing="-1">155</text>
<text transform="translate(509.00,561.00) scale(0.9714,1.0000)" font-size="14.2" fill="#ffffff" text-anchor="middle" font-weight="bold" stroke="#ffffff" stroke-width="0.7">LOWEST</text>
<text transform="translate(508.00,576.00) scale(0.7150,1.0000)" font-size="12.6" fill="#ffffff" text-anchor="middle" font-weight="bold" stroke="#ffffff" stroke-width="0.45">LIBYA</text>
<text transform="translate(508.00,590.00)" font-size="12.2" fill="#ffffff" text-anchor="middle" font-weight="bold" font-style="italic" stroke="#ffffff" stroke-width="0.3">12.3</text>
<circle cx="569.25" cy="547.50" r="13.00" fill="#6f48c8" stroke="#ffffff" stroke-width="2.0"/>
<text class="serif" transform="translate(569.25,552.28)" font-size="14.5" fill="#ffffff" text-anchor="middle" font-weight="bold" letter-spacing="-0.5">151</text>
<text transform="translate(279.00,565.00) scale(0.9325,1.0000)" font-size="15.2" fill="#2b2560" text-anchor="start" font-weight="bold" stroke="#2b2560" stroke-width="0.7">HIGHEST</text>
<circle cx="310.4" cy="594.4" r="21.5" fill="#ee3e2e" stroke="#2b2560" stroke-width="3.9"/>
<text class="serif" transform="translate(310.40,606.00)" font-size="34.5" fill="#ffffff" text-anchor="middle" font-weight="bold">1</text>
<text transform="translate(340.00,600.00) scale(0.7150,1.0000)" font-size="12.6" fill="#2b2560" text-anchor="start" font-weight="bold" stroke="#2b2560" stroke-width="0.45">BERMUDA</text>
<text transform="translate(340.00,613.80)" font-size="12.2" fill="#2b2560" text-anchor="start" font-weight="bold" font-style="italic" stroke="#2b2560" stroke-width="0.3">123.5</text>
<circle cx="227.80" cy="632.10" r="16.80" fill="#f4694b" stroke="#2b2560" stroke-width="1.6"/>
<text class="serif" transform="translate(227.80,640.35)" font-size="25" fill="#ffffff" text-anchor="middle" font-weight="bold">6</text>
<text transform="translate(250.50,630.00) scale(0.7150,1.0000)" font-size="12.6" fill="#2b2560" text-anchor="start" font-weight="bold" stroke="#2b2560" stroke-width="0.45">BAHAMAS</text>
<text transform="translate(250.50,644.00)" font-size="12.2" fill="#2b2560" text-anchor="start" font-weight="bold" font-style="italic" stroke="#2b2560" stroke-width="0.3">77.1</text>
<circle cx="298.50" cy="654.50" r="16.80" fill="#f4694b" stroke="#2b2560" stroke-width="1.6"/>
<text class="serif" transform="translate(298.50,662.75)" font-size="25" fill="#ffffff" text-anchor="middle" font-weight="bold">4</text>
<text transform="translate(320.00,652.80) scale(0.7150,1.0000)" font-size="12.6" fill="#2b2560" text-anchor="start" font-weight="bold" stroke="#2b2560" stroke-width="0.45">U.S. VIRGIN ISL.</text>
<text transform="translate(320.00,666.60)" font-size="12.2" fill="#2b2560" text-anchor="start" font-weight="bold" font-style="italic" stroke="#2b2560" stroke-width="0.3">82.5</text>
<circle cx="195.30" cy="671.50" r="16.80" fill="#f0583f" stroke="#2b2560" stroke-width="1.6"/>
<text class="serif" transform="translate(195.30,679.75)" font-size="25" fill="#ffffff" text-anchor="middle" font-weight="bold">2</text>
<text transform="translate(215.00,681.50) scale(0.7150,1.0000)" font-size="12.6" fill="#2b2560" text-anchor="start" font-weight="bold" stroke="#2b2560" stroke-width="0.45">CAYMAN ISL.</text>
<text transform="translate(317.00,686.50) scale(0.7150,1.0000)" font-size="12.6" fill="#2b2560" text-anchor="start" font-weight="bold" stroke="#2b2560" stroke-width="0.45">SENEGAL</text>
<text transform="translate(365.30,686.50)" font-size="12.2" fill="#2b2560" text-anchor="start" font-weight="bold" font-style="italic">35.5</text>
<circle cx="405.80" cy="683.60" r="11.70" fill="#f9a58f" stroke="#ffffff" stroke-width="2.0" stroke-opacity="0.75"/>
<text class="serif" transform="translate(405.80,689.21)" font-size="17" fill="#2b2560" text-anchor="middle" font-weight="bold" letter-spacing="-0.5">58</text>
<circle cx="125.00" cy="479.25" r="13.00" fill="#fb8b6e" stroke="#ffffff" stroke-width="2"/>
<text class="serif" transform="translate(125.00,484.86)" font-size="17" fill="#ffffff" text-anchor="middle" font-weight="bold" letter-spacing="-0.5">26</text>
<text transform="translate(151.25,475.50) scale(0.7150,1.0000)" font-size="12.6" fill="#2b2560" text-anchor="start" font-weight="bold" stroke="#2b2560" stroke-width="0.45">CANADA</text>
<text transform="translate(151.25,489.50)" font-size="12.2" fill="#2b2560" text-anchor="start" font-weight="bold" font-style="italic" stroke="#2b2560" stroke-width="0.3">48.9</text>
<circle cx="124.25" cy="561.25" r="13.00" fill="#fb8064" stroke="#ffffff" stroke-width="2"/>
<text class="serif" transform="translate(124.25,566.86)" font-size="17" fill="#ffffff" text-anchor="middle" font-weight="bold" letter-spacing="-0.5">19</text>
<text transform="translate(150.75,559.50) scale(0.7150,1.0000)" font-size="12.6" fill="#2b2560" text-anchor="start" font-weight="bold" stroke="#2b2560" stroke-width="0.45">U.S.</text>
<text transform="translate(150.75,573.25)" font-size="12.2" fill="#2b2560" text-anchor="start" font-weight="bold" font-style="italic" stroke="#2b2560" stroke-width="0.3">56.3</text>
<circle cx="124.25" cy="650.25" r="12.00" fill="#fbc0bc" stroke="#ffffff" stroke-width="2.0" stroke-opacity="0.75"/>
<text class="serif" transform="translate(124.25,655.86)" font-size="17" fill="#2b2560" text-anchor="middle" font-weight="bold" letter-spacing="-0.5">74</text>
<text transform="translate(101.25,647.50) scale(0.7150,1.0000)" font-size="12.6" fill="#2b2560" text-anchor="end" font-weight="bold" stroke="#2b2560" stroke-width="0.45">MEXICO</text>
<text transform="translate(101.25,662.00)" font-size="12.2" fill="#2b2560" text-anchor="end" font-weight="bold" font-style="italic" stroke="#2b2560" stroke-width="0.3">31.5</text>
<circle cx="725.75" cy="464.50" r="13.00" fill="#dca4d4" stroke="#ffffff" stroke-width="2.0" stroke-opacity="0.75"/>
<text class="serif" transform="translate(725.75,469.29)" font-size="14.5" fill="#2b2560" text-anchor="middle" font-weight="bold" letter-spacing="-0.5">104</text>
<text transform="translate(747.00,463.75) scale(0.7150,1.0000)" font-size="12.6" fill="#2b2560" text-anchor="start" font-weight="bold" stroke="#2b2560" stroke-width="0.45">RUSSIA</text>
<text transform="translate(747.00,478.00)" font-size="12.2" fill="#2b2560" text-anchor="start" font-weight="bold" font-style="italic" stroke="#2b2560" stroke-width="0.3">25.7</text>
<circle cx="748.00" cy="526.00" r="12.50" fill="#d6a0d3" stroke="#ffffff" stroke-width="2.0" stroke-opacity="0.75"/>
<text class="serif" transform="translate(748.00,530.78)" font-size="14.5" fill="#2b2560" text-anchor="middle" font-weight="bold" letter-spacing="-0.5">107</text>
<text transform="translate(765.75,528.75) scale(0.7150,1.0000)" font-size="12.6" fill="#2b2560" text-anchor="start" font-weight="bold" stroke="#2b2560" stroke-width="0.45">MONGOLIA</text>
<text transform="translate(765.75,542.50)" font-size="12.2" fill="#2b2560" text-anchor="start" font-weight="bold" font-style="italic" stroke="#2b2560" stroke-width="0.3">25.1</text>
<circle cx="674.25" cy="521.50" r="12.50" fill="#b88ad6" stroke="#ffffff" stroke-width="2.0"/>
<text class="serif" transform="translate(674.25,526.28)" font-size="14.5" fill="#ffffff" text-anchor="middle" font-weight="bold" letter-spacing="-0.5">123</text>
<circle cx="761.50" cy="578.25" r="12.50" fill="#b485d6" stroke="#ffffff" stroke-width="2.0"/>
<text class="serif" transform="translate(761.50,583.03)" font-size="14.5" fill="#ffffff" text-anchor="middle" font-weight="bold" letter-spacing="-0.5">122</text>
<text transform="translate(781.00,577.50) scale(0.7150,1.0000)" font-size="12.6" fill="#ffffff" text-anchor="start" font-weight="bold" stroke="#ffffff" stroke-width="0.45">CHINA</text>
<text transform="translate(781.00,592.00)" font-size="12.2" fill="#ffffff" text-anchor="start" font-weight="bold" font-style="italic" stroke="#ffffff" stroke-width="0.3">21.5</text>
<text transform="translate(927.25,531.50) scale(0.7150,1.0000)" font-size="12.6" fill="#2b2560" text-anchor="start" font-weight="bold" stroke="#2b2560" stroke-width="0.45">S. KOREA</text>
<text transform="translate(927.25,545.25)" font-size="12.2" fill="#2b2560" text-anchor="start" font-weight="bold" font-style="italic" stroke="#2b2560" stroke-width="0.3">41.3</text>
<circle cx="871.00" cy="578.25" r="12.50" fill="#fba37f" stroke="#ffffff" stroke-width="2.0" stroke-opacity="0.75"/>
<text class="serif" transform="translate(871.00,583.86)" font-size="17" fill="#2b2560" text-anchor="middle" font-weight="bold" letter-spacing="-0.5">42</text>
<circle cx="907.50" cy="571.50" r="12.00" fill="#fbb5a6" stroke="#ffffff" stroke-width="2.0" stroke-opacity="0.75"/>
<text class="serif" transform="translate(907.50,577.11)" font-size="17" fill="#2b2560" text-anchor="middle" font-weight="bold" letter-spacing="-0.5">69</text>
<text transform="translate(927.25,570.75) scale(0.7150,1.0000)" font-size="12.6" fill="#2b2560" text-anchor="start" font-weight="bold" stroke="#2b2560" stroke-width="0.45">JAPAN</text>
<text transform="translate(927.25,585.00)" font-size="12.2" fill="#2b2560" text-anchor="start" font-weight="bold" font-style="italic" stroke="#2b2560" stroke-width="0.3">32.8</text>
<circle cx="901.75" cy="651.25" r="17.50" fill="#f4694b" stroke="#2b2560" stroke-width="1.6"/>
<text class="serif" transform="translate(901.75,659.50)" font-size="25" fill="#ffffff" text-anchor="middle" font-weight="bold">9</text>
<text transform="translate(925.50,650.25) scale(0.7150,1.0000)" font-size="12.6" fill="#2b2560" text-anchor="start" font-weight="bold" stroke="#2b2560" stroke-width="0.45">HONG KONG</text>
<text transform="translate(925.50,664.50)" font-size="12.2" fill="#2b2560" text-anchor="start" font-weight="bold" font-style="italic" stroke="#2b2560" stroke-width="0.3">69.8</text>
<circle cx="780.50" cy="640.75" r="12.00" fill="#d6a0d3" stroke="#ffffff" stroke-width="2.0" stroke-opacity="0.75"/>
<text class="serif" transform="translate(780.50,645.53)" font-size="14.5" fill="#2b2560" text-anchor="middle" font-weight="bold" letter-spacing="-0.5">101</text>
<circle cx="805.00" cy="662.00" r="12.50" fill="#e2a9d3" stroke="#ffffff" stroke-width="2.0" stroke-opacity="0.75"/>
<text class="serif" transform="translate(805.00,667.61)" font-size="17" fill="#2b2560" text-anchor="middle" font-weight="bold" letter-spacing="-0.5">94</text>
<circle cx="602.25" cy="584.50" r="12.00" fill="#6a44c6" stroke="#ffffff" stroke-width="2.0"/>
<text class="serif" transform="translate(602.25,589.28)" font-size="14.5" fill="#ffffff" text-anchor="middle" font-weight="bold" letter-spacing="-0.5">147</text>
<circle cx="638.00" cy="591.50" r="13.00" fill="#6a44c6" stroke="#ffffff" stroke-width="2.0"/>
<text class="serif" transform="translate(638.00,596.28)" font-size="14.5" fill="#ffffff" text-anchor="middle" font-weight="bold" letter-spacing="-0.5">146</text>
<circle cx="676.00" cy="587.75" r="12.50" fill="#6a44c6" stroke="#ffffff" stroke-width="2.0"/>
<text class="serif" transform="translate(676.00,592.53)" font-size="14.5" fill="#ffffff" text-anchor="middle" font-weight="bold" letter-spacing="-0.5">152</text>
<circle cx="682.25" cy="622.75" r="12.50" fill="#6a44c6" stroke="#ffffff" stroke-width="2.0"/>
<text class="serif" transform="translate(682.25,627.53)" font-size="14.5" fill="#ffffff" text-anchor="middle" font-weight="bold" letter-spacing="-0.5">153</text>
<circle cx="723.00" cy="622.00" r="13.00" fill="#5a35ba" stroke="#ffffff" stroke-width="2.0"/>
<text class="serif" transform="translate(723.00,626.78)" font-size="14.5" fill="#ffffff" text-anchor="middle" font-weight="bold" letter-spacing="-0.5">154</text>
<text transform="translate(723.50,648.25) scale(0.7150,1.0000)" font-size="12.6" fill="#ffffff" text-anchor="middle" font-weight="bold" stroke="#ffffff" stroke-width="0.45">INDIA</text>
<text transform="translate(723.50,661.50)" font-size="12.2" fill="#ffffff" text-anchor="middle" font-weight="bold" font-style="italic" stroke="#ffffff" stroke-width="0.3">12.4</text>
<circle cx="613.50" cy="630.25" r="13.00" fill="#fbc3c1" stroke="#ffffff" stroke-width="2.0" stroke-opacity="0.75"/>
<text class="serif" transform="translate(613.50,635.86)" font-size="17" fill="#2b2560" text-anchor="middle" font-weight="bold" letter-spacing="-0.5">79</text>
<circle cx="654.75" cy="649.00" r="13.75" fill="#fbc3c1" stroke="#ffffff" stroke-width="2.0" stroke-opacity="0.75"/>
<text class="serif" transform="translate(654.75,654.61)" font-size="17" fill="#2b2560" text-anchor="middle" font-weight="bold" letter-spacing="-0.5">80</text>
<circle cx="629.75" cy="672.00" r="12.50" fill="#fbc3c1" stroke="#ffffff" stroke-width="2.0" stroke-opacity="0.75"/>
<text class="serif" transform="translate(629.75,677.61)" font-size="17" fill="#2b2560" text-anchor="middle" font-weight="bold" letter-spacing="-0.5">71</text>
<text transform="translate(649.00,679.00) scale(0.7150,1.0000)" font-size="12.6" fill="#2b2560" text-anchor="start" font-weight="bold" stroke="#2b2560" stroke-width="0.45">YEMEN</text>
<circle cx="483.00" cy="684.00" r="12.00" fill="#d6a0d3" stroke="#ffffff" stroke-width="2.0" stroke-opacity="0.75"/>
<text class="serif" transform="translate(483.00,688.78)" font-size="14.5" fill="#2b2560" text-anchor="middle" font-weight="bold" letter-spacing="-0.5">105</text>
<text transform="translate(500.50,684.00) scale(0.7150,1.0000)" font-size="12.6" fill="#2b2560" text-anchor="start" font-weight="bold" stroke="#2b2560" stroke-width="0.45">NIGERIA</text>
</svg>
</body></html>
